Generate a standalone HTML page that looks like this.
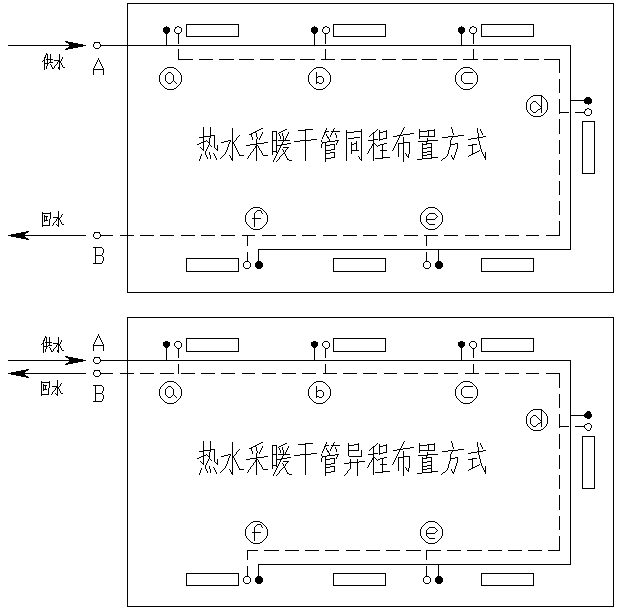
<!DOCTYPE html>
<html><head><meta charset="utf-8"><style>
html,body{margin:0;padding:0;background:#fff;width:620px;height:611px;overflow:hidden}
svg{display:block}
</style></head><body>
<svg width="620" height="611" viewBox="0 0 620 611" shape-rendering="crispEdges"><rect width="620" height="611" fill="#fff"/><path fill="#000" d="M127 3h487v1h-487zM127 4h1v1h-1zM613 4h1v1h-1zM127 5h1v1h-1zM613 5h1v1h-1zM127 6h1v1h-1zM613 6h1v1h-1zM127 7h1v1h-1zM613 7h1v1h-1zM127 8h1v1h-1zM613 8h1v1h-1zM127 9h1v1h-1zM613 9h1v1h-1zM127 10h1v1h-1zM613 10h1v1h-1zM127 11h1v1h-1zM613 11h1v1h-1zM127 12h1v1h-1zM613 12h1v1h-1zM127 13h1v1h-1zM613 13h1v1h-1zM127 14h1v1h-1zM613 14h1v1h-1zM127 15h1v1h-1zM613 15h1v1h-1zM127 16h1v1h-1zM613 16h1v1h-1zM127 17h1v1h-1zM613 17h1v1h-1zM127 18h1v1h-1zM613 18h1v1h-1zM127 19h1v1h-1zM613 19h1v1h-1zM127 20h1v1h-1zM613 20h1v1h-1zM127 21h1v1h-1zM613 21h1v1h-1zM127 22h1v1h-1zM613 22h1v1h-1zM127 23h1v1h-1zM613 23h1v1h-1zM127 24h1v1h-1zM186 24h53v1h-53zM333 24h53v1h-53zM481 24h53v1h-53zM613 24h1v1h-1zM127 25h1v1h-1zM186 25h1v1h-1zM238 25h1v1h-1zM333 25h1v1h-1zM385 25h1v1h-1zM481 25h1v1h-1zM533 25h1v1h-1zM613 25h1v1h-1zM127 26h1v1h-1zM166 26h1v1h-1zM177 26h2v1h-2zM186 26h1v1h-1zM238 26h1v1h-1zM314 26h1v1h-1zM325 26h2v1h-2zM333 26h1v1h-1zM385 26h1v1h-1zM461 26h1v1h-1zM472 26h2v1h-2zM481 26h1v1h-1zM533 26h1v1h-1zM613 26h1v1h-1zM127 27h1v1h-1zM164 27h5v1h-5zM175 27h2v1h-2zM179 27h2v1h-2zM186 27h1v1h-1zM238 27h1v1h-1zM312 27h5v1h-5zM323 27h2v1h-2zM327 27h2v1h-2zM333 27h1v1h-1zM385 27h1v1h-1zM459 27h5v1h-5zM470 27h2v1h-2zM474 27h2v1h-2zM481 27h1v1h-1zM533 27h1v1h-1zM613 27h1v1h-1zM127 28h1v1h-1zM163 28h7v1h-7zM175 28h1v1h-1zM181 28h1v1h-1zM186 28h1v1h-1zM238 28h1v1h-1zM311 28h7v1h-7zM323 28h1v1h-1zM329 28h1v1h-1zM333 28h1v1h-1zM385 28h1v1h-1zM458 28h7v1h-7zM470 28h1v1h-1zM476 28h1v1h-1zM481 28h1v1h-1zM533 28h1v1h-1zM613 28h1v1h-1zM127 29h1v1h-1zM163 29h7v1h-7zM174 29h1v1h-1zM181 29h1v1h-1zM186 29h1v1h-1zM238 29h1v1h-1zM311 29h7v1h-7zM322 29h1v1h-1zM329 29h1v1h-1zM333 29h1v1h-1zM385 29h1v1h-1zM458 29h7v1h-7zM469 29h1v1h-1zM476 29h1v1h-1zM481 29h1v1h-1zM533 29h1v1h-1zM613 29h1v1h-1zM127 30h1v1h-1zM163 30h7v1h-7zM174 30h1v1h-1zM181 30h1v1h-1zM186 30h1v1h-1zM238 30h1v1h-1zM311 30h7v1h-7zM322 30h1v1h-1zM329 30h1v1h-1zM333 30h1v1h-1zM385 30h1v1h-1zM458 30h7v1h-7zM469 30h1v1h-1zM476 30h1v1h-1zM481 30h1v1h-1zM533 30h1v1h-1zM613 30h1v1h-1zM127 31h1v1h-1zM163 31h7v1h-7zM174 31h1v1h-1zM181 31h1v1h-1zM186 31h1v1h-1zM238 31h1v1h-1zM311 31h7v1h-7zM322 31h1v1h-1zM329 31h1v1h-1zM333 31h1v1h-1zM385 31h1v1h-1zM458 31h7v1h-7zM469 31h1v1h-1zM476 31h1v1h-1zM481 31h1v1h-1zM533 31h1v1h-1zM613 31h1v1h-1zM127 32h1v1h-1zM164 32h5v1h-5zM175 32h1v1h-1zM180 32h1v1h-1zM186 32h1v1h-1zM238 32h1v1h-1zM312 32h5v1h-5zM323 32h1v1h-1zM328 32h1v1h-1zM333 32h1v1h-1zM385 32h1v1h-1zM459 32h5v1h-5zM470 32h1v1h-1zM475 32h1v1h-1zM481 32h1v1h-1zM533 32h1v1h-1zM613 32h1v1h-1zM127 33h1v1h-1zM165 33h3v1h-3zM176 33h4v1h-4zM186 33h1v1h-1zM238 33h1v1h-1zM313 33h3v1h-3zM324 33h4v1h-4zM333 33h1v1h-1zM385 33h1v1h-1zM460 33h3v1h-3zM471 33h4v1h-4zM481 33h1v1h-1zM533 33h1v1h-1zM613 33h1v1h-1zM127 34h1v1h-1zM166 34h1v1h-1zM178 34h1v1h-1zM186 34h1v1h-1zM238 34h1v1h-1zM314 34h1v1h-1zM325 34h1v1h-1zM333 34h1v1h-1zM385 34h1v1h-1zM461 34h1v1h-1zM473 34h1v1h-1zM481 34h1v1h-1zM533 34h1v1h-1zM613 34h1v1h-1zM127 35h1v1h-1zM166 35h1v1h-1zM178 35h1v1h-1zM186 35h1v1h-1zM238 35h1v1h-1zM314 35h1v1h-1zM325 35h1v1h-1zM333 35h1v1h-1zM385 35h1v1h-1zM461 35h1v1h-1zM473 35h1v1h-1zM481 35h1v1h-1zM533 35h1v1h-1zM613 35h1v1h-1zM127 36h1v1h-1zM166 36h1v1h-1zM178 36h1v1h-1zM186 36h53v1h-53zM314 36h1v1h-1zM325 36h1v1h-1zM333 36h53v1h-53zM461 36h1v1h-1zM473 36h1v1h-1zM481 36h53v1h-53zM613 36h1v1h-1zM127 37h1v1h-1zM166 37h1v1h-1zM178 37h1v1h-1zM314 37h1v1h-1zM325 37h1v1h-1zM461 37h1v1h-1zM473 37h1v1h-1zM613 37h1v1h-1zM127 38h1v1h-1zM166 38h1v1h-1zM178 38h1v1h-1zM314 38h1v1h-1zM325 38h1v1h-1zM461 38h1v1h-1zM473 38h1v1h-1zM613 38h1v1h-1zM127 39h1v1h-1zM166 39h1v1h-1zM178 39h1v1h-1zM314 39h1v1h-1zM325 39h1v1h-1zM461 39h1v1h-1zM473 39h1v1h-1zM613 39h1v1h-1zM127 40h1v1h-1zM166 40h1v1h-1zM178 40h1v1h-1zM314 40h1v1h-1zM325 40h1v1h-1zM461 40h1v1h-1zM473 40h1v1h-1zM613 40h1v1h-1zM65 41h3v1h-3zM127 41h1v1h-1zM166 41h1v1h-1zM178 41h1v1h-1zM314 41h1v1h-1zM325 41h1v1h-1zM461 41h1v1h-1zM473 41h1v1h-1zM613 41h1v1h-1zM66 42h7v1h-7zM94 42h6v1h-6zM127 42h1v1h-1zM166 42h1v1h-1zM178 42h1v1h-1zM314 42h1v1h-1zM325 42h1v1h-1zM461 42h1v1h-1zM473 42h1v1h-1zM613 42h1v1h-1zM68 43h10v1h-10zM94 43h1v1h-1zM99 43h1v1h-1zM127 43h1v1h-1zM166 43h1v1h-1zM178 43h1v1h-1zM314 43h1v1h-1zM325 43h1v1h-1zM461 43h1v1h-1zM473 43h1v1h-1zM613 43h1v1h-1zM69 44h14v1h-14zM93 44h1v1h-1zM100 44h1v1h-1zM127 44h1v1h-1zM166 44h1v1h-1zM314 44h1v1h-1zM461 44h1v1h-1zM613 44h1v1h-1zM8 45h78v1h-78zM93 45h1v1h-1zM100 45h471v1h-471zM613 45h1v1h-1zM69 46h14v1h-14zM93 46h1v1h-1zM100 46h1v1h-1zM127 46h1v1h-1zM570 46h1v1h-1zM613 46h1v1h-1zM68 47h10v1h-10zM94 47h1v1h-1zM99 47h1v1h-1zM127 47h1v1h-1zM570 47h1v1h-1zM613 47h1v1h-1zM66 48h7v1h-7zM95 48h4v1h-4zM127 48h1v1h-1zM570 48h1v1h-1zM613 48h1v1h-1zM65 49h3v1h-3zM127 49h1v1h-1zM178 49h1v1h-1zM325 49h1v1h-1zM473 49h1v1h-1zM570 49h1v1h-1zM613 49h1v1h-1zM127 50h1v1h-1zM178 50h1v1h-1zM325 50h1v1h-1zM473 50h1v1h-1zM570 50h1v1h-1zM613 50h1v1h-1zM127 51h1v1h-1zM178 51h1v1h-1zM325 51h1v1h-1zM473 51h1v1h-1zM570 51h1v1h-1zM613 51h1v1h-1zM127 52h1v1h-1zM178 52h1v1h-1zM325 52h1v1h-1zM473 52h1v1h-1zM570 52h1v1h-1zM613 52h1v1h-1zM46 53h1v1h-1zM127 53h1v1h-1zM178 53h1v1h-1zM325 53h1v1h-1zM473 53h1v1h-1zM570 53h1v1h-1zM613 53h1v1h-1zM46 54h2v1h-2zM50 54h1v1h-1zM59 54h1v1h-1zM127 54h1v1h-1zM178 54h1v1h-1zM325 54h1v1h-1zM473 54h1v1h-1zM570 54h1v1h-1zM613 54h1v1h-1zM45 55h1v1h-1zM47 55h1v1h-1zM50 55h1v1h-1zM59 55h1v1h-1zM127 55h1v1h-1zM178 55h1v1h-1zM325 55h1v1h-1zM473 55h1v1h-1zM570 55h1v1h-1zM613 55h1v1h-1zM45 56h1v1h-1zM47 56h1v1h-1zM50 56h1v1h-1zM59 56h1v1h-1zM127 56h1v1h-1zM178 56h1v1h-1zM325 56h1v1h-1zM473 56h1v1h-1zM570 56h1v1h-1zM613 56h1v1h-1zM44 57h2v1h-2zM47 57h1v1h-1zM50 57h1v1h-1zM59 57h1v1h-1zM62 57h1v1h-1zM127 57h1v1h-1zM178 57h1v1h-1zM325 57h1v1h-1zM473 57h1v1h-1zM570 57h1v1h-1zM613 57h1v1h-1zM44 58h1v1h-1zM47 58h1v1h-1zM50 58h1v1h-1zM59 58h1v1h-1zM62 58h1v1h-1zM98 58h1v1h-1zM127 58h1v1h-1zM178 58h1v1h-1zM325 58h1v1h-1zM473 58h1v1h-1zM570 58h1v1h-1zM613 58h1v1h-1zM44 59h1v1h-1zM46 59h7v1h-7zM59 59h1v1h-1zM61 59h1v1h-1zM98 59h1v1h-1zM127 59h1v1h-1zM178 59h15v1h-15zM199 59h14v1h-14zM219 59h15v1h-15zM239 59h15v1h-15zM260 59h14v1h-14zM280 59h15v1h-15zM300 59h15v1h-15zM321 59h14v1h-14zM341 59h15v1h-15zM361 59h15v1h-15zM382 59h14v1h-14zM402 59h15v1h-15zM422 59h15v1h-15zM443 59h14v1h-14zM463 59h15v1h-15zM483 59h15v1h-15zM504 59h14v1h-14zM524 59h15v1h-15zM544 59h16v1h-16zM570 59h1v1h-1zM613 59h1v1h-1zM43 60h2v1h-2zM47 60h1v1h-1zM50 60h1v1h-1zM54 60h6v1h-6zM61 60h1v1h-1zM97 60h1v1h-1zM99 60h1v1h-1zM127 60h1v1h-1zM559 60h1v1h-1zM570 60h1v1h-1zM613 60h1v1h-1zM42 61h1v1h-1zM44 61h1v1h-1zM47 61h1v1h-1zM50 61h1v1h-1zM58 61h3v1h-3zM97 61h1v1h-1zM99 61h1v1h-1zM127 61h1v1h-1zM559 61h1v1h-1zM570 61h1v1h-1zM613 61h1v1h-1zM44 62h1v1h-1zM47 62h1v1h-1zM49 62h4v1h-4zM57 62h1v1h-1zM59 62h2v1h-2zM96 62h1v1h-1zM100 62h1v1h-1zM127 62h1v1h-1zM559 62h1v1h-1zM570 62h1v1h-1zM613 62h1v1h-1zM44 63h5v1h-5zM57 63h1v1h-1zM59 63h1v1h-1zM61 63h1v1h-1zM96 63h1v1h-1zM100 63h1v1h-1zM127 63h1v1h-1zM559 63h1v1h-1zM570 63h1v1h-1zM613 63h1v1h-1zM44 64h1v1h-1zM47 64h1v1h-1zM50 64h1v1h-1zM56 64h1v1h-1zM59 64h1v1h-1zM61 64h1v1h-1zM95 64h1v1h-1zM101 64h1v1h-1zM127 64h1v1h-1zM559 64h1v1h-1zM570 64h1v1h-1zM613 64h1v1h-1zM44 65h1v1h-1zM47 65h1v1h-1zM51 65h1v1h-1zM55 65h1v1h-1zM59 65h1v1h-1zM62 65h1v1h-1zM95 65h1v1h-1zM101 65h1v1h-1zM127 65h1v1h-1zM559 65h1v1h-1zM570 65h1v1h-1zM613 65h1v1h-1zM44 66h1v1h-1zM46 66h1v1h-1zM51 66h1v1h-1zM54 66h1v1h-1zM59 66h1v1h-1zM62 66h1v1h-1zM94 66h1v1h-1zM102 66h1v1h-1zM127 66h1v1h-1zM559 66h1v1h-1zM570 66h1v1h-1zM613 66h1v1h-1zM44 67h1v1h-1zM46 67h1v1h-1zM52 67h1v1h-1zM54 67h1v1h-1zM58 67h2v1h-2zM63 67h2v1h-2zM94 67h1v1h-1zM102 67h1v1h-1zM127 67h1v1h-1zM167 67h7v1h-7zM316 67h7v1h-7zM463 67h7v1h-7zM559 67h1v1h-1zM570 67h1v1h-1zM613 67h1v1h-1zM44 68h1v1h-1zM46 68h1v1h-1zM52 68h2v1h-2zM58 68h2v1h-2zM93 68h1v1h-1zM103 68h1v1h-1zM127 68h1v1h-1zM165 68h2v1h-2zM174 68h2v1h-2zM314 68h2v1h-2zM323 68h2v1h-2zM461 68h2v1h-2zM470 68h2v1h-2zM559 68h1v1h-1zM570 68h1v1h-1zM613 68h1v1h-1zM44 69h1v1h-1zM59 69h1v1h-1zM93 69h11v1h-11zM127 69h1v1h-1zM164 69h1v1h-1zM176 69h1v1h-1zM313 69h1v1h-1zM325 69h1v1h-1zM460 69h1v1h-1zM472 69h1v1h-1zM559 69h1v1h-1zM570 69h1v1h-1zM613 69h1v1h-1zM93 70h1v1h-1zM103 70h1v1h-1zM127 70h1v1h-1zM163 70h1v1h-1zM177 70h1v1h-1zM312 70h1v1h-1zM326 70h1v1h-1zM459 70h1v1h-1zM473 70h1v1h-1zM559 70h1v1h-1zM570 70h1v1h-1zM613 70h1v1h-1zM93 71h1v1h-1zM103 71h1v1h-1zM127 71h1v1h-1zM162 71h1v1h-1zM178 71h1v1h-1zM311 71h1v1h-1zM327 71h1v1h-1zM458 71h1v1h-1zM474 71h1v1h-1zM559 71h1v1h-1zM570 71h1v1h-1zM613 71h1v1h-1zM93 72h1v1h-1zM103 72h1v1h-1zM127 72h1v1h-1zM161 72h1v1h-1zM168 72h3v1h-3zM179 72h1v1h-1zM310 72h1v1h-1zM316 72h1v1h-1zM328 72h1v1h-1zM457 72h1v1h-1zM464 72h9v1h-9zM475 72h1v1h-1zM559 72h1v1h-1zM570 72h1v1h-1zM613 72h1v1h-1zM93 73h1v1h-1zM103 73h1v1h-1zM127 73h1v1h-1zM160 73h1v1h-1zM167 73h1v1h-1zM171 73h1v1h-1zM180 73h1v1h-1zM309 73h1v1h-1zM316 73h1v1h-1zM329 73h1v1h-1zM456 73h1v1h-1zM463 73h1v1h-1zM476 73h1v1h-1zM570 73h1v1h-1zM613 73h1v1h-1zM93 74h1v1h-1zM103 74h1v1h-1zM127 74h1v1h-1zM160 74h1v1h-1zM166 74h1v1h-1zM172 74h1v1h-1zM180 74h1v1h-1zM309 74h1v1h-1zM316 74h1v1h-1zM329 74h1v1h-1zM456 74h1v1h-1zM462 74h1v1h-1zM476 74h1v1h-1zM570 74h1v1h-1zM613 74h1v1h-1zM127 75h1v1h-1zM159 75h1v1h-1zM165 75h1v1h-1zM173 75h1v1h-1zM181 75h1v1h-1zM308 75h1v1h-1zM316 75h1v1h-1zM330 75h1v1h-1zM455 75h1v1h-1zM461 75h1v1h-1zM477 75h1v1h-1zM570 75h1v1h-1zM613 75h1v1h-1zM127 76h1v1h-1zM159 76h1v1h-1zM165 76h1v1h-1zM173 76h1v1h-1zM181 76h1v1h-1zM308 76h1v1h-1zM316 76h1v1h-1zM318 76h4v1h-4zM330 76h1v1h-1zM455 76h1v1h-1zM461 76h1v1h-1zM477 76h1v1h-1zM570 76h1v1h-1zM613 76h1v1h-1zM127 77h1v1h-1zM159 77h1v1h-1zM165 77h1v1h-1zM173 77h1v1h-1zM181 77h1v1h-1zM308 77h1v1h-1zM316 77h2v1h-2zM322 77h1v1h-1zM330 77h1v1h-1zM455 77h1v1h-1zM461 77h1v1h-1zM477 77h1v1h-1zM570 77h1v1h-1zM613 77h1v1h-1zM127 78h1v1h-1zM159 78h1v1h-1zM165 78h1v1h-1zM173 78h1v1h-1zM181 78h1v1h-1zM308 78h1v1h-1zM316 78h1v1h-1zM323 78h1v1h-1zM330 78h1v1h-1zM455 78h1v1h-1zM461 78h1v1h-1zM477 78h1v1h-1zM570 78h1v1h-1zM613 78h1v1h-1zM127 79h1v1h-1zM159 79h1v1h-1zM165 79h1v1h-1zM173 79h1v1h-1zM181 79h1v1h-1zM308 79h1v1h-1zM316 79h1v1h-1zM323 79h1v1h-1zM330 79h1v1h-1zM455 79h1v1h-1zM461 79h1v1h-1zM477 79h1v1h-1zM559 79h1v1h-1zM570 79h1v1h-1zM613 79h1v1h-1zM127 80h1v1h-1zM159 80h1v1h-1zM165 80h1v1h-1zM173 80h1v1h-1zM181 80h1v1h-1zM308 80h1v1h-1zM316 80h1v1h-1zM323 80h1v1h-1zM330 80h1v1h-1zM455 80h1v1h-1zM461 80h1v1h-1zM477 80h1v1h-1zM559 80h1v1h-1zM570 80h1v1h-1zM613 80h1v1h-1zM127 81h1v1h-1zM159 81h1v1h-1zM166 81h1v1h-1zM172 81h1v1h-1zM174 81h1v1h-1zM181 81h1v1h-1zM308 81h1v1h-1zM316 81h1v1h-1zM323 81h1v1h-1zM330 81h1v1h-1zM455 81h1v1h-1zM462 81h1v1h-1zM477 81h1v1h-1zM559 81h1v1h-1zM570 81h1v1h-1zM613 81h1v1h-1zM127 82h1v1h-1zM160 82h1v1h-1zM167 82h1v1h-1zM171 82h1v1h-1zM175 82h1v1h-1zM180 82h1v1h-1zM309 82h1v1h-1zM316 82h3v1h-3zM322 82h1v1h-1zM329 82h1v1h-1zM456 82h1v1h-1zM463 82h1v1h-1zM476 82h1v1h-1zM559 82h1v1h-1zM570 82h1v1h-1zM613 82h1v1h-1zM127 83h1v1h-1zM160 83h1v1h-1zM168 83h3v1h-3zM176 83h1v1h-1zM180 83h1v1h-1zM309 83h1v1h-1zM316 83h1v1h-1zM319 83h3v1h-3zM329 83h1v1h-1zM456 83h1v1h-1zM464 83h9v1h-9zM476 83h1v1h-1zM559 83h1v1h-1zM570 83h1v1h-1zM613 83h1v1h-1zM127 84h1v1h-1zM161 84h1v1h-1zM179 84h1v1h-1zM310 84h1v1h-1zM328 84h1v1h-1zM457 84h1v1h-1zM475 84h1v1h-1zM559 84h1v1h-1zM570 84h1v1h-1zM613 84h1v1h-1zM127 85h1v1h-1zM162 85h1v1h-1zM178 85h1v1h-1zM311 85h1v1h-1zM327 85h1v1h-1zM458 85h1v1h-1zM474 85h1v1h-1zM559 85h1v1h-1zM570 85h1v1h-1zM613 85h1v1h-1zM127 86h1v1h-1zM163 86h1v1h-1zM177 86h1v1h-1zM312 86h1v1h-1zM326 86h1v1h-1zM459 86h1v1h-1zM473 86h1v1h-1zM559 86h1v1h-1zM570 86h1v1h-1zM613 86h1v1h-1zM127 87h1v1h-1zM164 87h1v1h-1zM176 87h1v1h-1zM313 87h1v1h-1zM325 87h1v1h-1zM460 87h1v1h-1zM472 87h1v1h-1zM559 87h1v1h-1zM570 87h1v1h-1zM613 87h1v1h-1zM127 88h1v1h-1zM165 88h2v1h-2zM174 88h2v1h-2zM314 88h2v1h-2zM323 88h2v1h-2zM461 88h2v1h-2zM470 88h2v1h-2zM559 88h1v1h-1zM570 88h1v1h-1zM613 88h1v1h-1zM127 89h1v1h-1zM167 89h7v1h-7zM316 89h7v1h-7zM463 89h7v1h-7zM559 89h1v1h-1zM570 89h1v1h-1zM613 89h1v1h-1zM127 90h1v1h-1zM559 90h1v1h-1zM570 90h1v1h-1zM613 90h1v1h-1zM127 91h1v1h-1zM559 91h1v1h-1zM570 91h1v1h-1zM613 91h1v1h-1zM127 92h1v1h-1zM559 92h1v1h-1zM570 92h1v1h-1zM613 92h1v1h-1zM127 93h1v1h-1zM570 93h1v1h-1zM613 93h1v1h-1zM127 94h1v1h-1zM570 94h1v1h-1zM613 94h1v1h-1zM127 95h1v1h-1zM533 95h9v1h-9zM570 95h1v1h-1zM613 95h1v1h-1zM127 96h1v1h-1zM531 96h2v1h-2zM541 96h2v1h-2zM570 96h1v1h-1zM613 96h1v1h-1zM127 97h1v1h-1zM530 97h1v1h-1zM541 97h1v1h-1zM543 97h1v1h-1zM570 97h1v1h-1zM586 97h4v1h-4zM613 97h1v1h-1zM127 98h1v1h-1zM529 98h1v1h-1zM541 98h1v1h-1zM544 98h1v1h-1zM570 98h1v1h-1zM585 98h6v1h-6zM613 98h1v1h-1zM127 99h1v1h-1zM528 99h1v1h-1zM541 99h1v1h-1zM545 99h1v1h-1zM559 99h1v1h-1zM570 99h1v1h-1zM584 99h8v1h-8zM613 99h1v1h-1zM127 100h1v1h-1zM527 100h1v1h-1zM541 100h1v1h-1zM546 100h1v1h-1zM559 100h1v1h-1zM570 100h22v1h-22zM613 100h1v1h-1zM127 101h1v1h-1zM527 101h1v1h-1zM533 101h3v1h-3zM541 101h1v1h-1zM546 101h1v1h-1zM559 101h1v1h-1zM570 101h1v1h-1zM584 101h8v1h-8zM613 101h1v1h-1zM127 102h1v1h-1zM526 102h1v1h-1zM532 102h1v1h-1zM536 102h1v1h-1zM541 102h1v1h-1zM547 102h1v1h-1zM559 102h1v1h-1zM570 102h1v1h-1zM584 102h8v1h-8zM613 102h1v1h-1zM127 103h1v1h-1zM526 103h1v1h-1zM531 103h1v1h-1zM537 103h1v1h-1zM541 103h1v1h-1zM547 103h1v1h-1zM559 103h1v1h-1zM570 103h1v1h-1zM585 103h6v1h-6zM613 103h1v1h-1zM127 104h1v1h-1zM526 104h1v1h-1zM530 104h1v1h-1zM538 104h1v1h-1zM541 104h1v1h-1zM547 104h1v1h-1zM559 104h1v1h-1zM570 104h1v1h-1zM588 104h1v1h-1zM613 104h1v1h-1zM127 105h1v1h-1zM526 105h1v1h-1zM530 105h1v1h-1zM539 105h1v1h-1zM541 105h1v1h-1zM547 105h1v1h-1zM559 105h1v1h-1zM570 105h1v1h-1zM613 105h1v1h-1zM127 106h1v1h-1zM526 106h1v1h-1zM530 106h1v1h-1zM540 106h2v1h-2zM547 106h1v1h-1zM559 106h1v1h-1zM570 106h1v1h-1zM613 106h1v1h-1zM127 107h1v1h-1zM526 107h1v1h-1zM530 107h1v1h-1zM541 107h1v1h-1zM547 107h1v1h-1zM559 107h1v1h-1zM570 107h1v1h-1zM613 107h1v1h-1zM127 108h1v1h-1zM526 108h1v1h-1zM530 108h1v1h-1zM540 108h2v1h-2zM547 108h1v1h-1zM559 108h1v1h-1zM570 108h1v1h-1zM587 108h2v1h-2zM613 108h1v1h-1zM127 109h1v1h-1zM526 109h1v1h-1zM530 109h1v1h-1zM538 109h2v1h-2zM541 109h1v1h-1zM547 109h1v1h-1zM559 109h1v1h-1zM570 109h1v1h-1zM585 109h2v1h-2zM589 109h2v1h-2zM613 109h1v1h-1zM127 110h1v1h-1zM527 110h1v1h-1zM531 110h1v1h-1zM537 110h1v1h-1zM541 110h1v1h-1zM546 110h1v1h-1zM559 110h1v1h-1zM570 110h1v1h-1zM585 110h1v1h-1zM591 110h1v1h-1zM613 110h1v1h-1zM127 111h1v1h-1zM527 111h1v1h-1zM532 111h1v1h-1zM536 111h1v1h-1zM541 111h1v1h-1zM546 111h1v1h-1zM559 111h1v1h-1zM570 111h1v1h-1zM584 111h1v1h-1zM591 111h1v1h-1zM613 111h1v1h-1zM127 112h1v1h-1zM528 112h1v1h-1zM533 112h3v1h-3zM541 112h1v1h-1zM545 112h1v1h-1zM559 112h10v1h-10zM570 112h1v1h-1zM575 112h10v1h-10zM591 112h1v1h-1zM613 112h1v1h-1zM127 113h1v1h-1zM529 113h1v1h-1zM544 113h1v1h-1zM559 113h1v1h-1zM570 113h1v1h-1zM584 113h1v1h-1zM591 113h1v1h-1zM613 113h1v1h-1zM127 114h1v1h-1zM530 114h1v1h-1zM543 114h1v1h-1zM570 114h1v1h-1zM585 114h1v1h-1zM590 114h1v1h-1zM613 114h1v1h-1zM127 115h1v1h-1zM531 115h2v1h-2zM541 115h2v1h-2zM570 115h1v1h-1zM586 115h4v1h-4zM613 115h1v1h-1zM127 116h1v1h-1zM533 116h8v1h-8zM570 116h1v1h-1zM613 116h1v1h-1zM127 117h1v1h-1zM570 117h1v1h-1zM613 117h1v1h-1zM127 118h1v1h-1zM570 118h1v1h-1zM613 118h1v1h-1zM127 119h1v1h-1zM559 119h1v1h-1zM570 119h1v1h-1zM613 119h1v1h-1zM127 120h1v1h-1zM559 120h1v1h-1zM570 120h1v1h-1zM613 120h1v1h-1zM127 121h1v1h-1zM559 121h1v1h-1zM570 121h1v1h-1zM582 121h13v1h-13zM613 121h1v1h-1zM127 122h1v1h-1zM559 122h1v1h-1zM570 122h1v1h-1zM582 122h1v1h-1zM594 122h1v1h-1zM613 122h1v1h-1zM127 123h1v1h-1zM559 123h1v1h-1zM570 123h1v1h-1zM582 123h1v1h-1zM594 123h1v1h-1zM613 123h1v1h-1zM127 124h1v1h-1zM559 124h1v1h-1zM570 124h1v1h-1zM582 124h1v1h-1zM594 124h1v1h-1zM613 124h1v1h-1zM127 125h1v1h-1zM559 125h1v1h-1zM570 125h1v1h-1zM582 125h1v1h-1zM594 125h1v1h-1zM613 125h1v1h-1zM127 126h1v1h-1zM559 126h1v1h-1zM570 126h1v1h-1zM582 126h1v1h-1zM594 126h1v1h-1zM613 126h1v1h-1zM127 127h1v1h-1zM203 127h1v1h-1zM210 127h1v1h-1zM404 127h1v1h-1zM451 127h1v1h-1zM559 127h1v1h-1zM570 127h1v1h-1zM582 127h1v1h-1zM594 127h1v1h-1zM613 127h1v1h-1zM127 128h1v1h-1zM203 128h1v1h-1zM210 128h1v1h-1zM232 128h1v1h-1zM261 128h2v1h-2zM326 128h1v1h-1zM334 128h1v1h-1zM403 128h1v1h-1zM451 128h1v1h-1zM477 128h1v1h-1zM559 128h1v1h-1zM570 128h1v1h-1zM582 128h1v1h-1zM594 128h1v1h-1zM613 128h1v1h-1zM127 129h1v1h-1zM203 129h1v1h-1zM210 129h1v1h-1zM232 129h1v1h-1zM259 129h2v1h-2zM285 129h2v1h-2zM305 129h8v1h-8zM326 129h1v1h-1zM333 129h1v1h-1zM361 129h1v1h-1zM377 129h1v1h-1zM403 129h1v1h-1zM419 129h1v1h-1zM434 129h1v1h-1zM452 129h1v1h-1zM477 129h1v1h-1zM480 129h1v1h-1zM559 129h1v1h-1zM570 129h1v1h-1zM582 129h1v1h-1zM594 129h1v1h-1zM613 129h1v1h-1zM127 130h1v1h-1zM203 130h1v1h-1zM210 130h1v1h-1zM232 130h1v1h-1zM257 130h2v1h-2zM283 130h2v1h-2zM298 130h8v1h-8zM325 130h1v1h-1zM333 130h1v1h-1zM346 130h1v1h-1zM361 130h1v1h-1zM376 130h1v1h-1zM379 130h1v1h-1zM386 130h1v1h-1zM402 130h1v1h-1zM419 130h1v1h-1zM427 130h8v1h-8zM452 130h1v1h-1zM477 130h1v1h-1zM480 130h1v1h-1zM559 130h1v1h-1zM570 130h1v1h-1zM582 130h1v1h-1zM594 130h1v1h-1zM613 130h1v1h-1zM127 131h1v1h-1zM203 131h1v1h-1zM210 131h1v1h-1zM232 131h1v1h-1zM255 131h2v1h-2zM272 131h5v1h-5zM281 131h2v1h-2zM305 131h1v1h-1zM325 131h4v1h-4zM331 131h9v1h-9zM346 131h1v1h-1zM354 131h8v1h-8zM375 131h1v1h-1zM379 131h1v1h-1zM383 131h4v1h-4zM402 131h1v1h-1zM419 131h8v1h-8zM428 131h1v1h-1zM434 131h1v1h-1zM452 131h1v1h-1zM477 131h1v1h-1zM481 131h1v1h-1zM559 131h1v1h-1zM570 131h1v1h-1zM582 131h1v1h-1zM594 131h1v1h-1zM613 131h1v1h-1zM127 132h1v1h-1zM203 132h1v1h-1zM210 132h1v1h-1zM232 132h1v1h-1zM253 132h3v1h-3zM262 132h1v1h-1zM272 132h1v1h-1zM276 132h1v1h-1zM279 132h2v1h-2zM288 132h1v1h-1zM305 132h1v1h-1zM324 132h2v1h-2zM332 132h1v1h-1zM346 132h8v1h-8zM361 132h1v1h-1zM373 132h2v1h-2zM379 132h4v1h-4zM386 132h1v1h-1zM401 132h1v1h-1zM419 132h1v1h-1zM428 132h1v1h-1zM434 132h1v1h-1zM452 132h1v1h-1zM477 132h1v1h-1zM481 132h1v1h-1zM559 132h1v1h-1zM570 132h1v1h-1zM582 132h1v1h-1zM594 132h1v1h-1zM613 132h1v1h-1zM127 133h1v1h-1zM203 133h1v1h-1zM210 133h1v1h-1zM232 133h1v1h-1zM251 133h2v1h-2zM256 133h1v1h-1zM262 133h1v1h-1zM272 133h1v1h-1zM276 133h1v1h-1zM278 133h1v1h-1zM282 133h1v1h-1zM288 133h1v1h-1zM305 133h1v1h-1zM324 133h1v1h-1zM331 133h1v1h-1zM335 133h1v1h-1zM346 133h1v1h-1zM361 133h1v1h-1zM372 133h2v1h-2zM379 133h1v1h-1zM386 133h1v1h-1zM401 133h1v1h-1zM410 133h4v1h-4zM419 133h1v1h-1zM428 133h1v1h-1zM434 133h1v1h-1zM453 133h1v1h-1zM478 133h1v1h-1zM482 133h1v1h-1zM559 133h1v1h-1zM570 133h1v1h-1zM582 133h1v1h-1zM594 133h1v1h-1zM613 133h1v1h-1zM127 134h1v1h-1zM203 134h1v1h-1zM210 134h1v1h-1zM232 134h1v1h-1zM249 134h3v1h-3zM256 134h1v1h-1zM261 134h1v1h-1zM272 134h1v1h-1zM276 134h1v1h-1zM279 134h1v1h-1zM282 134h1v1h-1zM287 134h1v1h-1zM305 134h1v1h-1zM324 134h1v1h-1zM326 134h1v1h-1zM331 134h1v1h-1zM335 134h1v1h-1zM346 134h1v1h-1zM361 134h1v1h-1zM371 134h1v1h-1zM373 134h1v1h-1zM379 134h1v1h-1zM386 134h1v1h-1zM400 134h1v1h-1zM403 134h7v1h-7zM419 134h1v1h-1zM428 134h1v1h-1zM434 134h1v1h-1zM453 134h1v1h-1zM478 134h1v1h-1zM482 134h1v1h-1zM570 134h1v1h-1zM582 134h1v1h-1zM594 134h1v1h-1zM613 134h1v1h-1zM127 135h1v1h-1zM203 135h1v1h-1zM210 135h5v1h-5zM232 135h1v1h-1zM239 135h1v1h-1zM251 135h1v1h-1zM256 135h1v1h-1zM261 135h1v1h-1zM272 135h1v1h-1zM276 135h1v1h-1zM279 135h1v1h-1zM282 135h1v1h-1zM287 135h1v1h-1zM305 135h1v1h-1zM323 135h1v1h-1zM326 135h1v1h-1zM330 135h1v1h-1zM336 135h1v1h-1zM346 135h1v1h-1zM361 135h1v1h-1zM370 135h1v1h-1zM373 135h1v1h-1zM379 135h1v1h-1zM386 135h1v1h-1zM397 135h6v1h-6zM419 135h1v1h-1zM428 135h1v1h-1zM434 135h1v1h-1zM458 135h6v1h-6zM478 135h1v1h-1zM570 135h1v1h-1zM582 135h1v1h-1zM594 135h1v1h-1zM613 135h1v1h-1zM127 136h1v1h-1zM203 136h8v1h-8zM214 136h1v1h-1zM232 136h1v1h-1zM238 136h1v1h-1zM251 136h1v1h-1zM256 136h1v1h-1zM260 136h1v1h-1zM272 136h1v1h-1zM276 136h1v1h-1zM280 136h1v1h-1zM283 136h1v1h-1zM286 136h1v1h-1zM305 136h1v1h-1zM323 136h1v1h-1zM327 136h1v1h-1zM330 136h1v1h-1zM336 136h1v1h-1zM346 136h1v1h-1zM361 136h1v1h-1zM369 136h1v1h-1zM373 136h1v1h-1zM379 136h1v1h-1zM386 136h1v1h-1zM393 136h4v1h-4zM399 136h1v1h-1zM419 136h16v1h-16zM448 136h10v1h-10zM478 136h1v1h-1zM483 136h3v1h-3zM570 136h1v1h-1zM582 136h1v1h-1zM594 136h1v1h-1zM613 136h1v1h-1zM127 137h1v1h-1zM199 137h5v1h-5zM210 137h1v1h-1zM214 137h1v1h-1zM232 137h1v1h-1zM237 137h1v1h-1zM252 137h1v1h-1zM257 137h1v1h-1zM260 137h1v1h-1zM272 137h1v1h-1zM276 137h1v1h-1zM280 137h1v1h-1zM283 137h1v1h-1zM286 137h1v1h-1zM305 137h1v1h-1zM322 137h1v1h-1zM327 137h2v1h-2zM336 137h1v1h-1zM346 137h1v1h-1zM354 137h6v1h-6zM361 137h1v1h-1zM373 137h1v1h-1zM379 137h1v1h-1zM386 137h1v1h-1zM399 137h1v1h-1zM403 137h1v1h-1zM419 137h1v1h-1zM442 137h6v1h-6zM452 137h1v1h-1zM477 137h6v1h-6zM570 137h1v1h-1zM582 137h1v1h-1zM594 137h1v1h-1zM613 137h1v1h-1zM127 138h1v1h-1zM203 138h1v1h-1zM209 138h1v1h-1zM214 138h1v1h-1zM232 138h1v1h-1zM236 138h1v1h-1zM252 138h1v1h-1zM257 138h1v1h-1zM259 138h1v1h-1zM272 138h1v1h-1zM276 138h1v1h-1zM280 138h1v1h-1zM283 138h1v1h-1zM285 138h1v1h-1zM305 138h1v1h-1zM322 138h1v1h-1zM328 138h1v1h-1zM346 138h1v1h-1zM348 138h6v1h-6zM361 138h1v1h-1zM373 138h1v1h-1zM379 138h1v1h-1zM383 138h4v1h-4zM398 138h1v1h-1zM403 138h1v1h-1zM419 138h1v1h-1zM427 138h1v1h-1zM451 138h1v1h-1zM471 138h6v1h-6zM478 138h1v1h-1zM570 138h1v1h-1zM582 138h1v1h-1zM594 138h1v1h-1zM613 138h1v1h-1zM127 139h1v1h-1zM203 139h1v1h-1zM209 139h1v1h-1zM214 139h1v1h-1zM232 139h1v1h-1zM236 139h1v1h-1zM252 139h1v1h-1zM256 139h1v1h-1zM259 139h1v1h-1zM272 139h1v1h-1zM276 139h1v1h-1zM283 139h1v1h-1zM285 139h1v1h-1zM305 139h1v1h-1zM311 139h6v1h-6zM329 139h1v1h-1zM346 139h1v1h-1zM361 139h1v1h-1zM373 139h5v1h-5zM379 139h4v1h-4zM398 139h1v1h-1zM403 139h1v1h-1zM427 139h1v1h-1zM451 139h1v1h-1zM468 139h3v1h-3zM478 139h1v1h-1zM570 139h1v1h-1zM582 139h1v1h-1zM594 139h1v1h-1zM613 139h1v1h-1zM127 140h1v1h-1zM203 140h1v1h-1zM206 140h1v1h-1zM209 140h1v1h-1zM214 140h1v1h-1zM228 140h3v1h-3zM232 140h1v1h-1zM235 140h1v1h-1zM256 140h1v1h-1zM272 140h5v1h-5zM278 140h12v1h-12zM300 140h11v1h-11zM321 140h1v1h-1zM329 140h1v1h-1zM335 140h4v1h-4zM346 140h1v1h-1zM361 140h1v1h-1zM368 140h6v1h-6zM379 140h1v1h-1zM397 140h1v1h-1zM403 140h1v1h-1zM427 140h11v1h-11zM450 140h1v1h-1zM478 140h1v1h-1zM559 140h1v1h-1zM570 140h1v1h-1zM582 140h1v1h-1zM594 140h1v1h-1zM613 140h1v1h-1zM127 141h1v1h-1zM203 141h3v1h-3zM207 141h1v1h-1zM209 141h1v1h-1zM214 141h1v1h-1zM224 141h4v1h-4zM230 141h1v1h-1zM232 141h1v1h-1zM234 141h1v1h-1zM256 141h1v1h-1zM272 141h1v1h-1zM276 141h1v1h-1zM283 141h1v1h-1zM294 141h6v1h-6zM305 141h1v1h-1zM321 141h1v1h-1zM327 141h8v1h-8zM337 141h1v1h-1zM346 141h1v1h-1zM356 141h1v1h-1zM361 141h1v1h-1zM373 141h1v1h-1zM397 141h1v1h-1zM403 141h1v1h-1zM418 141h10v1h-10zM450 141h1v1h-1zM479 141h1v1h-1zM559 141h1v1h-1zM570 141h1v1h-1zM582 141h1v1h-1zM594 141h1v1h-1zM613 141h1v1h-1zM127 142h1v1h-1zM201 142h3v1h-3zM208 142h2v1h-2zM214 142h1v1h-1zM221 142h3v1h-3zM229 142h1v1h-1zM232 142h2v1h-2zM256 142h1v1h-1zM264 142h4v1h-4zM272 142h1v1h-1zM276 142h1v1h-1zM282 142h1v1h-1zM305 142h1v1h-1zM322 142h5v1h-5zM337 142h1v1h-1zM346 142h1v1h-1zM351 142h1v1h-1zM356 142h1v1h-1zM361 142h1v1h-1zM373 142h1v1h-1zM396 142h1v1h-1zM403 142h7v1h-7zM426 142h1v1h-1zM450 142h1v1h-1zM479 142h1v1h-1zM559 142h1v1h-1zM570 142h1v1h-1zM582 142h1v1h-1zM594 142h1v1h-1zM613 142h1v1h-1zM127 143h1v1h-1zM199 143h2v1h-2zM203 143h1v1h-1zM209 143h1v1h-1zM214 143h1v1h-1zM229 143h1v1h-1zM232 143h2v1h-2zM256 143h8v1h-8zM272 143h1v1h-1zM276 143h1v1h-1zM282 143h1v1h-1zM287 143h4v1h-4zM305 143h1v1h-1zM322 143h1v1h-1zM325 143h1v1h-1zM336 143h1v1h-1zM346 143h1v1h-1zM351 143h1v1h-1zM354 143h3v1h-3zM361 143h1v1h-1zM373 143h2v1h-2zM384 143h3v1h-3zM396 143h1v1h-1zM398 143h6v1h-6zM409 143h1v1h-1zM422 143h1v1h-1zM426 143h6v1h-6zM450 143h1v1h-1zM455 143h3v1h-3zM479 143h1v1h-1zM559 143h1v1h-1zM570 143h1v1h-1zM582 143h1v1h-1zM594 143h1v1h-1zM613 143h1v1h-1zM127 144h1v1h-1zM197 144h2v1h-2zM203 144h1v1h-1zM209 144h1v1h-1zM214 144h1v1h-1zM228 144h1v1h-1zM232 144h1v1h-1zM234 144h1v1h-1zM250 144h7v1h-7zM272 144h1v1h-1zM276 144h1v1h-1zM281 144h6v1h-6zM305 144h1v1h-1zM321 144h1v1h-1zM325 144h1v1h-1zM330 144h5v1h-5zM336 144h1v1h-1zM346 144h1v1h-1zM351 144h3v1h-3zM356 144h1v1h-1zM361 144h1v1h-1zM372 144h2v1h-2zM375 144h1v1h-1zM380 144h4v1h-4zM395 144h1v1h-1zM398 144h1v1h-1zM403 144h1v1h-1zM409 144h1v1h-1zM422 144h5v1h-5zM431 144h1v1h-1zM450 144h5v1h-5zM457 144h1v1h-1zM472 144h5v1h-5zM479 144h1v1h-1zM559 144h1v1h-1zM570 144h1v1h-1zM582 144h1v1h-1zM594 144h1v1h-1zM613 144h1v1h-1zM127 145h1v1h-1zM203 145h1v1h-1zM208 145h1v1h-1zM210 145h1v1h-1zM214 145h1v1h-1zM217 145h1v1h-1zM228 145h1v1h-1zM232 145h1v1h-1zM234 145h1v1h-1zM246 145h4v1h-4zM256 145h2v1h-2zM272 145h1v1h-1zM276 145h6v1h-6zM305 145h1v1h-1zM321 145h1v1h-1zM325 145h5v1h-5zM334 145h1v1h-1zM346 145h1v1h-1zM351 145h1v1h-1zM356 145h1v1h-1zM361 145h1v1h-1zM372 145h2v1h-2zM376 145h1v1h-1zM378 145h2v1h-2zM382 145h1v1h-1zM395 145h1v1h-1zM398 145h1v1h-1zM403 145h1v1h-1zM409 145h1v1h-1zM422 145h1v1h-1zM431 145h1v1h-1zM450 145h1v1h-1zM457 145h1v1h-1zM468 145h5v1h-5zM480 145h1v1h-1zM559 145h1v1h-1zM570 145h1v1h-1zM582 145h1v1h-1zM594 145h1v1h-1zM613 145h1v1h-1zM127 146h1v1h-1zM203 146h1v1h-1zM208 146h1v1h-1zM211 146h1v1h-1zM214 146h1v1h-1zM217 146h1v1h-1zM228 146h1v1h-1zM232 146h1v1h-1zM235 146h1v1h-1zM255 146h2v1h-2zM258 146h1v1h-1zM272 146h1v1h-1zM276 146h1v1h-1zM280 146h1v1h-1zM305 146h1v1h-1zM321 146h1v1h-1zM325 146h1v1h-1zM334 146h1v1h-1zM346 146h1v1h-1zM351 146h1v1h-1zM356 146h1v1h-1zM361 146h1v1h-1zM371 146h1v1h-1zM373 146h1v1h-1zM377 146h1v1h-1zM382 146h1v1h-1zM394 146h1v1h-1zM398 146h1v1h-1zM403 146h1v1h-1zM409 146h1v1h-1zM422 146h1v1h-1zM431 146h1v1h-1zM450 146h1v1h-1zM457 146h1v1h-1zM472 146h1v1h-1zM480 146h1v1h-1zM559 146h1v1h-1zM570 146h1v1h-1zM582 146h1v1h-1zM594 146h1v1h-1zM613 146h1v1h-1zM127 147h1v1h-1zM200 147h1v1h-1zM203 147h1v1h-1zM207 147h1v1h-1zM214 147h1v1h-1zM217 147h1v1h-1zM227 147h1v1h-1zM232 147h1v1h-1zM235 147h1v1h-1zM255 147h2v1h-2zM258 147h1v1h-1zM272 147h1v1h-1zM276 147h1v1h-1zM280 147h1v1h-1zM283 147h6v1h-6zM305 147h1v1h-1zM321 147h1v1h-1zM325 147h1v1h-1zM334 147h1v1h-1zM346 147h1v1h-1zM351 147h1v1h-1zM356 147h1v1h-1zM361 147h1v1h-1zM371 147h1v1h-1zM373 147h1v1h-1zM382 147h1v1h-1zM394 147h1v1h-1zM398 147h1v1h-1zM403 147h1v1h-1zM409 147h1v1h-1zM422 147h1v1h-1zM427 147h5v1h-5zM449 147h1v1h-1zM457 147h1v1h-1zM472 147h1v1h-1zM480 147h1v1h-1zM559 147h1v1h-1zM570 147h1v1h-1zM582 147h1v1h-1zM594 147h1v1h-1zM613 147h1v1h-1zM127 148h1v1h-1zM201 148h1v1h-1zM203 148h1v1h-1zM207 148h1v1h-1zM215 148h1v1h-1zM217 148h1v1h-1zM227 148h1v1h-1zM232 148h1v1h-1zM236 148h1v1h-1zM254 148h1v1h-1zM256 148h1v1h-1zM259 148h1v1h-1zM272 148h1v1h-1zM276 148h1v1h-1zM279 148h1v1h-1zM287 148h1v1h-1zM305 148h1v1h-1zM325 148h1v1h-1zM334 148h1v1h-1zM346 148h1v1h-1zM351 148h1v1h-1zM356 148h1v1h-1zM361 148h1v1h-1zM370 148h1v1h-1zM373 148h1v1h-1zM382 148h1v1h-1zM393 148h1v1h-1zM398 148h1v1h-1zM403 148h1v1h-1zM409 148h1v1h-1zM422 148h5v1h-5zM431 148h1v1h-1zM449 148h1v1h-1zM457 148h1v1h-1zM472 148h1v1h-1zM480 148h1v1h-1zM559 148h1v1h-1zM570 148h1v1h-1zM582 148h1v1h-1zM594 148h1v1h-1zM613 148h1v1h-1zM127 149h1v1h-1zM202 149h2v1h-2zM206 149h1v1h-1zM216 149h2v1h-2zM227 149h1v1h-1zM232 149h1v1h-1zM236 149h1v1h-1zM253 149h1v1h-1zM256 149h1v1h-1zM259 149h1v1h-1zM272 149h1v1h-1zM276 149h1v1h-1zM279 149h1v1h-1zM282 149h1v1h-1zM286 149h1v1h-1zM305 149h1v1h-1zM325 149h1v1h-1zM331 149h4v1h-4zM346 149h1v1h-1zM351 149h1v1h-1zM356 149h1v1h-1zM361 149h1v1h-1zM369 149h1v1h-1zM373 149h1v1h-1zM382 149h1v1h-1zM393 149h1v1h-1zM398 149h1v1h-1zM403 149h1v1h-1zM409 149h1v1h-1zM422 149h1v1h-1zM431 149h1v1h-1zM449 149h1v1h-1zM456 149h1v1h-1zM472 149h1v1h-1zM481 149h1v1h-1zM559 149h1v1h-1zM570 149h1v1h-1zM582 149h1v1h-1zM594 149h1v1h-1zM613 149h1v1h-1zM127 150h1v1h-1zM203 150h1v1h-1zM206 150h1v1h-1zM217 150h1v1h-1zM226 150h1v1h-1zM232 150h1v1h-1zM237 150h1v1h-1zM253 150h1v1h-1zM256 150h1v1h-1zM260 150h1v1h-1zM272 150h1v1h-1zM276 150h1v1h-1zM278 150h1v1h-1zM283 150h1v1h-1zM285 150h1v1h-1zM305 150h1v1h-1zM325 150h6v1h-6zM346 150h1v1h-1zM351 150h8v1h-8zM361 150h1v1h-1zM369 150h1v1h-1zM373 150h1v1h-1zM380 150h7v1h-7zM392 150h1v1h-1zM398 150h1v1h-1zM403 150h1v1h-1zM409 150h1v1h-1zM422 150h1v1h-1zM431 150h1v1h-1zM448 150h1v1h-1zM456 150h1v1h-1zM472 150h1v1h-1zM479 150h1v1h-1zM481 150h1v1h-1zM559 150h1v1h-1zM570 150h1v1h-1zM582 150h1v1h-1zM594 150h1v1h-1zM613 150h1v1h-1zM127 151h1v1h-1zM205 151h1v1h-1zM226 151h1v1h-1zM232 151h1v1h-1zM237 151h1v1h-1zM252 151h1v1h-1zM256 151h1v1h-1zM261 151h1v1h-1zM272 151h5v1h-5zM278 151h1v1h-1zM283 151h1v1h-1zM285 151h1v1h-1zM305 151h1v1h-1zM325 151h1v1h-1zM346 151h1v1h-1zM351 151h1v1h-1zM361 151h1v1h-1zM368 151h1v1h-1zM373 151h1v1h-1zM382 151h1v1h-1zM398 151h1v1h-1zM403 151h1v1h-1zM409 151h1v1h-1zM422 151h1v1h-1zM427 151h5v1h-5zM448 151h1v1h-1zM456 151h1v1h-1zM472 151h1v1h-1zM477 151h2v1h-2zM481 151h1v1h-1zM559 151h1v1h-1zM570 151h1v1h-1zM582 151h1v1h-1zM594 151h1v1h-1zM613 151h1v1h-1zM127 152h1v1h-1zM205 152h1v1h-1zM209 152h1v1h-1zM225 152h1v1h-1zM232 152h1v1h-1zM238 152h1v1h-1zM251 152h1v1h-1zM256 152h1v1h-1zM261 152h1v1h-1zM272 152h1v1h-1zM276 152h2v1h-2zM284 152h1v1h-1zM305 152h1v1h-1zM325 152h1v1h-1zM330 152h5v1h-5zM346 152h1v1h-1zM351 152h1v1h-1zM361 152h1v1h-1zM368 152h1v1h-1zM373 152h1v1h-1zM382 152h1v1h-1zM398 152h1v1h-1zM403 152h1v1h-1zM409 152h1v1h-1zM422 152h5v1h-5zM431 152h1v1h-1zM448 152h1v1h-1zM455 152h1v1h-1zM472 152h1v1h-1zM475 152h2v1h-2zM482 152h1v1h-1zM485 152h1v1h-1zM559 152h1v1h-1zM570 152h1v1h-1zM582 152h1v1h-1zM594 152h1v1h-1zM613 152h1v1h-1zM127 153h1v1h-1zM205 153h1v1h-1zM209 153h1v1h-1zM213 153h1v1h-1zM225 153h1v1h-1zM232 153h1v1h-1zM238 153h1v1h-1zM250 153h1v1h-1zM256 153h1v1h-1zM262 153h1v1h-1zM272 153h1v1h-1zM277 153h1v1h-1zM283 153h2v1h-2zM305 153h1v1h-1zM325 153h5v1h-5zM334 153h1v1h-1zM346 153h1v1h-1zM351 153h1v1h-1zM361 153h1v1h-1zM367 153h1v1h-1zM373 153h1v1h-1zM382 153h1v1h-1zM398 153h1v1h-1zM403 153h1v1h-1zM405 153h1v1h-1zM409 153h1v1h-1zM422 153h1v1h-1zM431 153h1v1h-1zM448 153h1v1h-1zM455 153h1v1h-1zM472 153h3v1h-3zM482 153h1v1h-1zM485 153h1v1h-1zM559 153h1v1h-1zM570 153h1v1h-1zM582 153h1v1h-1zM594 153h1v1h-1zM613 153h1v1h-1zM127 154h1v1h-1zM201 154h1v1h-1zM205 154h1v1h-1zM209 154h1v1h-1zM214 154h1v1h-1zM224 154h1v1h-1zM232 154h1v1h-1zM239 154h1v1h-1zM250 154h1v1h-1zM256 154h1v1h-1zM262 154h1v1h-1zM272 154h1v1h-1zM276 154h1v1h-1zM282 154h1v1h-1zM285 154h1v1h-1zM305 154h1v1h-1zM325 154h1v1h-1zM334 154h1v1h-1zM346 154h1v1h-1zM361 154h1v1h-1zM373 154h1v1h-1zM382 154h1v1h-1zM398 154h1v1h-1zM403 154h1v1h-1zM406 154h1v1h-1zM408 154h1v1h-1zM422 154h1v1h-1zM427 154h5v1h-5zM447 154h1v1h-1zM455 154h1v1h-1zM471 154h2v1h-2zM483 154h1v1h-1zM485 154h1v1h-1zM570 154h1v1h-1zM582 154h1v1h-1zM594 154h1v1h-1zM613 154h1v1h-1zM127 155h1v1h-1zM201 155h1v1h-1zM206 155h1v1h-1zM210 155h1v1h-1zM214 155h1v1h-1zM223 155h1v1h-1zM229 155h1v1h-1zM232 155h1v1h-1zM239 155h5v1h-5zM249 155h1v1h-1zM256 155h1v1h-1zM263 155h5v1h-5zM276 155h1v1h-1zM281 155h1v1h-1zM285 155h1v1h-1zM305 155h1v1h-1zM325 155h1v1h-1zM334 155h1v1h-1zM346 155h1v1h-1zM361 155h1v1h-1zM373 155h1v1h-1zM382 155h1v1h-1zM398 155h1v1h-1zM403 155h1v1h-1zM406 155h1v1h-1zM408 155h1v1h-1zM422 155h5v1h-5zM431 155h1v1h-1zM447 155h1v1h-1zM451 155h1v1h-1zM454 155h1v1h-1zM469 155h2v1h-2zM483 155h1v1h-1zM485 155h1v1h-1zM570 155h1v1h-1zM582 155h1v1h-1zM594 155h1v1h-1zM613 155h1v1h-1zM127 156h1v1h-1zM200 156h1v1h-1zM206 156h1v1h-1zM210 156h1v1h-1zM215 156h1v1h-1zM222 156h1v1h-1zM230 156h1v1h-1zM232 156h1v1h-1zM248 156h1v1h-1zM256 156h1v1h-1zM275 156h1v1h-1zM280 156h1v1h-1zM286 156h1v1h-1zM305 156h1v1h-1zM325 156h1v1h-1zM334 156h1v1h-1zM346 156h1v1h-1zM358 156h1v1h-1zM361 156h1v1h-1zM373 156h1v1h-1zM382 156h1v1h-1zM398 156h1v1h-1zM403 156h1v1h-1zM407 156h2v1h-2zM422 156h1v1h-1zM431 156h1v1h-1zM446 156h1v1h-1zM451 156h1v1h-1zM454 156h1v1h-1zM468 156h1v1h-1zM484 156h2v1h-2zM570 156h1v1h-1zM582 156h1v1h-1zM594 156h1v1h-1zM613 156h1v1h-1zM127 157h1v1h-1zM200 157h1v1h-1zM207 157h1v1h-1zM210 157h1v1h-1zM215 157h1v1h-1zM221 157h1v1h-1zM230 157h1v1h-1zM232 157h1v1h-1zM248 157h1v1h-1zM256 157h1v1h-1zM275 157h1v1h-1zM279 157h1v1h-1zM286 157h1v1h-1zM305 157h1v1h-1zM325 157h1v1h-1zM331 157h4v1h-4zM346 157h1v1h-1zM359 157h1v1h-1zM361 157h1v1h-1zM373 157h1v1h-1zM382 157h8v1h-8zM403 157h1v1h-1zM408 157h1v1h-1zM422 157h1v1h-1zM431 157h7v1h-7zM445 157h1v1h-1zM452 157h1v1h-1zM454 157h1v1h-1zM484 157h2v1h-2zM570 157h1v1h-1zM582 157h1v1h-1zM594 157h1v1h-1zM613 157h1v1h-1zM127 158h1v1h-1zM200 158h1v1h-1zM207 158h1v1h-1zM210 158h1v1h-1zM216 158h1v1h-1zM220 158h1v1h-1zM231 158h2v1h-2zM247 158h1v1h-1zM256 158h1v1h-1zM274 158h1v1h-1zM279 158h1v1h-1zM287 158h1v1h-1zM305 158h1v1h-1zM325 158h6v1h-6zM346 158h1v1h-1zM359 158h1v1h-1zM361 158h1v1h-1zM373 158h1v1h-1zM375 158h8v1h-8zM403 158h1v1h-1zM422 158h10v1h-10zM443 158h2v1h-2zM452 158h2v1h-2zM485 158h1v1h-1zM570 158h1v1h-1zM582 158h1v1h-1zM594 158h1v1h-1zM613 158h1v1h-1zM127 159h1v1h-1zM199 159h1v1h-1zM216 159h1v1h-1zM231 159h2v1h-2zM256 159h1v1h-1zM274 159h1v1h-1zM278 159h1v1h-1zM287 159h2v1h-2zM305 159h1v1h-1zM325 159h1v1h-1zM346 159h1v1h-1zM360 159h2v1h-2zM373 159h1v1h-1zM403 159h1v1h-1zM417 159h5v1h-5zM442 159h1v1h-1zM453 159h1v1h-1zM485 159h1v1h-1zM570 159h1v1h-1zM582 159h1v1h-1zM594 159h1v1h-1zM613 159h1v1h-1zM127 160h1v1h-1zM199 160h1v1h-1zM232 160h1v1h-1zM256 160h1v1h-1zM273 160h1v1h-1zM277 160h1v1h-1zM289 160h3v1h-3zM305 160h1v1h-1zM325 160h1v1h-1zM346 160h1v1h-1zM361 160h1v1h-1zM373 160h1v1h-1zM403 160h1v1h-1zM441 160h1v1h-1zM559 160h1v1h-1zM570 160h1v1h-1zM582 160h1v1h-1zM594 160h1v1h-1zM613 160h1v1h-1zM127 161h1v1h-1zM273 161h1v1h-1zM276 161h1v1h-1zM325 161h1v1h-1zM403 161h1v1h-1zM559 161h1v1h-1zM570 161h1v1h-1zM582 161h1v1h-1zM594 161h1v1h-1zM613 161h1v1h-1zM127 162h1v1h-1zM559 162h1v1h-1zM570 162h1v1h-1zM582 162h1v1h-1zM594 162h1v1h-1zM613 162h1v1h-1zM127 163h1v1h-1zM559 163h1v1h-1zM570 163h1v1h-1zM582 163h1v1h-1zM594 163h1v1h-1zM613 163h1v1h-1zM127 164h1v1h-1zM559 164h1v1h-1zM570 164h1v1h-1zM582 164h1v1h-1zM594 164h1v1h-1zM613 164h1v1h-1zM127 165h1v1h-1zM559 165h1v1h-1zM570 165h1v1h-1zM582 165h1v1h-1zM594 165h1v1h-1zM613 165h1v1h-1zM127 166h1v1h-1zM559 166h1v1h-1zM570 166h1v1h-1zM582 166h1v1h-1zM594 166h1v1h-1zM613 166h1v1h-1zM127 167h1v1h-1zM559 167h1v1h-1zM570 167h1v1h-1zM582 167h1v1h-1zM594 167h1v1h-1zM613 167h1v1h-1zM127 168h1v1h-1zM559 168h1v1h-1zM570 168h1v1h-1zM582 168h1v1h-1zM594 168h1v1h-1zM613 168h1v1h-1zM127 169h1v1h-1zM559 169h1v1h-1zM570 169h1v1h-1zM582 169h1v1h-1zM594 169h1v1h-1zM613 169h1v1h-1zM127 170h1v1h-1zM559 170h1v1h-1zM570 170h1v1h-1zM582 170h1v1h-1zM594 170h1v1h-1zM613 170h1v1h-1zM127 171h1v1h-1zM559 171h1v1h-1zM570 171h1v1h-1zM582 171h1v1h-1zM594 171h1v1h-1zM613 171h1v1h-1zM127 172h1v1h-1zM559 172h1v1h-1zM570 172h1v1h-1zM582 172h1v1h-1zM594 172h1v1h-1zM613 172h1v1h-1zM127 173h1v1h-1zM559 173h1v1h-1zM570 173h1v1h-1zM582 173h13v1h-13zM613 173h1v1h-1zM127 174h1v1h-1zM559 174h1v1h-1zM570 174h1v1h-1zM613 174h1v1h-1zM127 175h1v1h-1zM570 175h1v1h-1zM613 175h1v1h-1zM127 176h1v1h-1zM570 176h1v1h-1zM613 176h1v1h-1zM127 177h1v1h-1zM570 177h1v1h-1zM613 177h1v1h-1zM127 178h1v1h-1zM570 178h1v1h-1zM613 178h1v1h-1zM127 179h1v1h-1zM570 179h1v1h-1zM613 179h1v1h-1zM127 180h1v1h-1zM570 180h1v1h-1zM613 180h1v1h-1zM127 181h1v1h-1zM559 181h1v1h-1zM570 181h1v1h-1zM613 181h1v1h-1zM127 182h1v1h-1zM559 182h1v1h-1zM570 182h1v1h-1zM613 182h1v1h-1zM127 183h1v1h-1zM559 183h1v1h-1zM570 183h1v1h-1zM613 183h1v1h-1zM127 184h1v1h-1zM559 184h1v1h-1zM570 184h1v1h-1zM613 184h1v1h-1zM127 185h1v1h-1zM559 185h1v1h-1zM570 185h1v1h-1zM613 185h1v1h-1zM127 186h1v1h-1zM559 186h1v1h-1zM570 186h1v1h-1zM613 186h1v1h-1zM127 187h1v1h-1zM559 187h1v1h-1zM570 187h1v1h-1zM613 187h1v1h-1zM127 188h1v1h-1zM559 188h1v1h-1zM570 188h1v1h-1zM613 188h1v1h-1zM127 189h1v1h-1zM559 189h1v1h-1zM570 189h1v1h-1zM613 189h1v1h-1zM127 190h1v1h-1zM559 190h1v1h-1zM570 190h1v1h-1zM613 190h1v1h-1zM127 191h1v1h-1zM559 191h1v1h-1zM570 191h1v1h-1zM613 191h1v1h-1zM127 192h1v1h-1zM559 192h1v1h-1zM570 192h1v1h-1zM613 192h1v1h-1zM127 193h1v1h-1zM559 193h1v1h-1zM570 193h1v1h-1zM613 193h1v1h-1zM127 194h1v1h-1zM559 194h1v1h-1zM570 194h1v1h-1zM613 194h1v1h-1zM127 195h1v1h-1zM570 195h1v1h-1zM613 195h1v1h-1zM127 196h1v1h-1zM570 196h1v1h-1zM613 196h1v1h-1zM127 197h1v1h-1zM570 197h1v1h-1zM613 197h1v1h-1zM127 198h1v1h-1zM570 198h1v1h-1zM613 198h1v1h-1zM127 199h1v1h-1zM570 199h1v1h-1zM613 199h1v1h-1zM127 200h1v1h-1zM570 200h1v1h-1zM613 200h1v1h-1zM127 201h1v1h-1zM559 201h1v1h-1zM570 201h1v1h-1zM613 201h1v1h-1zM127 202h1v1h-1zM559 202h1v1h-1zM570 202h1v1h-1zM613 202h1v1h-1zM127 203h1v1h-1zM559 203h1v1h-1zM570 203h1v1h-1zM613 203h1v1h-1zM127 204h1v1h-1zM559 204h1v1h-1zM570 204h1v1h-1zM613 204h1v1h-1zM127 205h1v1h-1zM559 205h1v1h-1zM570 205h1v1h-1zM613 205h1v1h-1zM127 206h1v1h-1zM559 206h1v1h-1zM570 206h1v1h-1zM613 206h1v1h-1zM127 207h1v1h-1zM253 207h7v1h-7zM428 207h7v1h-7zM559 207h1v1h-1zM570 207h1v1h-1zM613 207h1v1h-1zM127 208h1v1h-1zM251 208h2v1h-2zM260 208h2v1h-2zM426 208h2v1h-2zM435 208h2v1h-2zM559 208h1v1h-1zM570 208h1v1h-1zM613 208h1v1h-1zM127 209h1v1h-1zM250 209h1v1h-1zM262 209h1v1h-1zM425 209h1v1h-1zM437 209h1v1h-1zM559 209h1v1h-1zM570 209h1v1h-1zM613 209h1v1h-1zM127 210h1v1h-1zM249 210h1v1h-1zM257 210h4v1h-4zM263 210h1v1h-1zM424 210h1v1h-1zM438 210h1v1h-1zM559 210h1v1h-1zM570 210h1v1h-1zM613 210h1v1h-1zM58 211h1v1h-1zM127 211h1v1h-1zM248 211h1v1h-1zM256 211h1v1h-1zM261 211h1v1h-1zM264 211h1v1h-1zM423 211h1v1h-1zM439 211h1v1h-1zM559 211h1v1h-1zM570 211h1v1h-1zM613 211h1v1h-1zM42 212h1v1h-1zM50 212h1v1h-1zM58 212h1v1h-1zM127 212h1v1h-1zM247 212h1v1h-1zM255 212h1v1h-1zM261 212h1v1h-1zM265 212h1v1h-1zM422 212h1v1h-1zM440 212h1v1h-1zM559 212h1v1h-1zM570 212h1v1h-1zM613 212h1v1h-1zM42 213h9v1h-9zM58 213h1v1h-1zM127 213h1v1h-1zM246 213h1v1h-1zM254 213h1v1h-1zM262 213h1v1h-1zM266 213h1v1h-1zM421 213h1v1h-1zM429 213h6v1h-6zM441 213h1v1h-1zM559 213h1v1h-1zM570 213h1v1h-1zM613 213h1v1h-1zM42 214h1v1h-1zM50 214h1v1h-1zM58 214h1v1h-1zM62 214h1v1h-1zM127 214h1v1h-1zM246 214h1v1h-1zM254 214h1v1h-1zM266 214h1v1h-1zM421 214h1v1h-1zM428 214h1v1h-1zM435 214h1v1h-1zM441 214h1v1h-1zM559 214h1v1h-1zM570 214h1v1h-1zM613 214h1v1h-1zM42 215h1v1h-1zM44 215h1v1h-1zM50 215h1v1h-1zM58 215h1v1h-1zM61 215h1v1h-1zM127 215h1v1h-1zM245 215h1v1h-1zM254 215h1v1h-1zM267 215h1v1h-1zM420 215h1v1h-1zM427 215h1v1h-1zM436 215h1v1h-1zM442 215h1v1h-1zM570 215h1v1h-1zM613 215h1v1h-1zM42 216h1v1h-1zM44 216h4v1h-4zM50 216h1v1h-1zM58 216h1v1h-1zM61 216h1v1h-1zM127 216h1v1h-1zM245 216h1v1h-1zM254 216h1v1h-1zM267 216h1v1h-1zM420 216h1v1h-1zM426 216h1v1h-1zM437 216h1v1h-1zM442 216h1v1h-1zM570 216h1v1h-1zM613 216h1v1h-1zM42 217h1v1h-1zM44 217h1v1h-1zM46 217h1v1h-1zM50 217h1v1h-1zM53 217h6v1h-6zM60 217h1v1h-1zM127 217h1v1h-1zM245 217h1v1h-1zM254 217h1v1h-1zM267 217h1v1h-1zM420 217h1v1h-1zM426 217h1v1h-1zM436 217h1v1h-1zM442 217h1v1h-1zM570 217h1v1h-1zM613 217h1v1h-1zM42 218h1v1h-1zM44 218h1v1h-1zM46 218h1v1h-1zM50 218h1v1h-1zM57 218h3v1h-3zM127 218h1v1h-1zM245 218h1v1h-1zM252 218h9v1h-9zM267 218h1v1h-1zM420 218h1v1h-1zM426 218h1v1h-1zM435 218h1v1h-1zM442 218h1v1h-1zM570 218h1v1h-1zM613 218h1v1h-1zM42 219h1v1h-1zM44 219h1v1h-1zM46 219h1v1h-1zM49 219h1v1h-1zM56 219h1v1h-1zM58 219h2v1h-2zM127 219h1v1h-1zM245 219h1v1h-1zM254 219h1v1h-1zM267 219h1v1h-1zM420 219h1v1h-1zM426 219h9v1h-9zM442 219h1v1h-1zM570 219h1v1h-1zM613 219h1v1h-1zM42 220h1v1h-1zM44 220h4v1h-4zM49 220h1v1h-1zM56 220h1v1h-1zM58 220h1v1h-1zM60 220h1v1h-1zM127 220h1v1h-1zM245 220h1v1h-1zM254 220h1v1h-1zM267 220h1v1h-1zM420 220h1v1h-1zM426 220h1v1h-1zM442 220h1v1h-1zM570 220h1v1h-1zM613 220h1v1h-1zM42 221h1v1h-1zM44 221h1v1h-1zM49 221h1v1h-1zM55 221h1v1h-1zM58 221h1v1h-1zM60 221h1v1h-1zM127 221h1v1h-1zM245 221h1v1h-1zM254 221h1v1h-1zM267 221h1v1h-1zM420 221h1v1h-1zM426 221h1v1h-1zM442 221h1v1h-1zM559 221h1v1h-1zM570 221h1v1h-1zM613 221h1v1h-1zM42 222h1v1h-1zM49 222h1v1h-1zM54 222h1v1h-1zM58 222h1v1h-1zM61 222h1v1h-1zM127 222h1v1h-1zM246 222h1v1h-1zM254 222h1v1h-1zM266 222h1v1h-1zM421 222h1v1h-1zM427 222h1v1h-1zM441 222h1v1h-1zM559 222h1v1h-1zM570 222h1v1h-1zM613 222h1v1h-1zM42 223h1v1h-1zM49 223h1v1h-1zM53 223h1v1h-1zM58 223h1v1h-1zM61 223h1v1h-1zM127 223h1v1h-1zM246 223h1v1h-1zM254 223h1v1h-1zM266 223h1v1h-1zM421 223h1v1h-1zM428 223h1v1h-1zM441 223h1v1h-1zM559 223h1v1h-1zM570 223h1v1h-1zM613 223h1v1h-1zM42 224h1v1h-1zM49 224h1v1h-1zM53 224h1v1h-1zM56 224h1v1h-1zM58 224h1v1h-1zM62 224h2v1h-2zM127 224h1v1h-1zM247 224h1v1h-1zM254 224h1v1h-1zM265 224h1v1h-1zM422 224h1v1h-1zM429 224h6v1h-6zM440 224h1v1h-1zM559 224h1v1h-1zM570 224h1v1h-1zM613 224h1v1h-1zM42 225h8v1h-8zM52 225h1v1h-1zM57 225h2v1h-2zM127 225h1v1h-1zM248 225h1v1h-1zM254 225h1v1h-1zM264 225h1v1h-1zM423 225h1v1h-1zM439 225h1v1h-1zM559 225h1v1h-1zM570 225h1v1h-1zM613 225h1v1h-1zM42 226h1v1h-1zM58 226h1v1h-1zM127 226h1v1h-1zM249 226h1v1h-1zM254 226h1v1h-1zM263 226h1v1h-1zM424 226h1v1h-1zM438 226h1v1h-1zM559 226h1v1h-1zM570 226h1v1h-1zM613 226h1v1h-1zM127 227h1v1h-1zM250 227h1v1h-1zM262 227h1v1h-1zM425 227h1v1h-1zM437 227h1v1h-1zM559 227h1v1h-1zM570 227h1v1h-1zM613 227h1v1h-1zM127 228h1v1h-1zM251 228h2v1h-2zM260 228h2v1h-2zM426 228h2v1h-2zM435 228h2v1h-2zM559 228h1v1h-1zM570 228h1v1h-1zM613 228h1v1h-1zM127 229h1v1h-1zM253 229h7v1h-7zM428 229h7v1h-7zM559 229h1v1h-1zM570 229h1v1h-1zM613 229h1v1h-1zM127 230h1v1h-1zM559 230h1v1h-1zM570 230h1v1h-1zM613 230h1v1h-1zM26 231h3v1h-3zM127 231h1v1h-1zM559 231h1v1h-1zM570 231h1v1h-1zM613 231h1v1h-1zM21 232h7v1h-7zM94 232h6v1h-6zM127 232h1v1h-1zM559 232h1v1h-1zM570 232h1v1h-1zM613 232h1v1h-1zM16 233h10v1h-10zM94 233h1v1h-1zM99 233h1v1h-1zM127 233h1v1h-1zM559 233h1v1h-1zM570 233h1v1h-1zM613 233h1v1h-1zM11 234h14v1h-14zM93 234h1v1h-1zM100 234h1v1h-1zM127 234h1v1h-1zM559 234h1v1h-1zM570 234h1v1h-1zM613 234h1v1h-1zM8 235h78v1h-78zM93 235h1v1h-1zM100 235h13v1h-13zM120 235h14v1h-14zM140 235h14v1h-14zM160 235h14v1h-14zM181 235h14v1h-14zM201 235h14v1h-14zM221 235h14v1h-14zM242 235h13v1h-13zM262 235h14v1h-14zM282 235h14v1h-14zM302 235h14v1h-14zM323 235h14v1h-14zM343 235h14v1h-14zM363 235h14v1h-14zM384 235h13v1h-13zM404 235h14v1h-14zM424 235h14v1h-14zM444 235h14v1h-14zM465 235h14v1h-14zM485 235h14v1h-14zM505 235h14v1h-14zM526 235h13v1h-13zM546 235h14v1h-14zM570 235h1v1h-1zM613 235h1v1h-1zM11 236h14v1h-14zM93 236h1v1h-1zM100 236h1v1h-1zM127 236h1v1h-1zM247 236h1v1h-1zM426 236h1v1h-1zM570 236h1v1h-1zM613 236h1v1h-1zM16 237h10v1h-10zM94 237h1v1h-1zM99 237h1v1h-1zM127 237h1v1h-1zM247 237h1v1h-1zM426 237h1v1h-1zM570 237h1v1h-1zM613 237h1v1h-1zM21 238h7v1h-7zM95 238h4v1h-4zM127 238h1v1h-1zM247 238h1v1h-1zM426 238h1v1h-1zM570 238h1v1h-1zM613 238h1v1h-1zM26 239h3v1h-3zM127 239h1v1h-1zM247 239h1v1h-1zM426 239h1v1h-1zM570 239h1v1h-1zM613 239h1v1h-1zM127 240h1v1h-1zM247 240h1v1h-1zM426 240h1v1h-1zM570 240h1v1h-1zM613 240h1v1h-1zM127 241h1v1h-1zM247 241h1v1h-1zM426 241h1v1h-1zM570 241h1v1h-1zM613 241h1v1h-1zM127 242h1v1h-1zM247 242h1v1h-1zM426 242h1v1h-1zM570 242h1v1h-1zM613 242h1v1h-1zM127 243h1v1h-1zM247 243h1v1h-1zM426 243h1v1h-1zM570 243h1v1h-1zM613 243h1v1h-1zM127 244h1v1h-1zM247 244h1v1h-1zM426 244h1v1h-1zM570 244h1v1h-1zM613 244h1v1h-1zM127 245h1v1h-1zM247 245h1v1h-1zM426 245h1v1h-1zM570 245h1v1h-1zM613 245h1v1h-1zM127 246h1v1h-1zM570 246h1v1h-1zM613 246h1v1h-1zM93 247h9v1h-9zM127 247h1v1h-1zM570 247h1v1h-1zM613 247h1v1h-1zM95 248h1v1h-1zM102 248h1v1h-1zM127 248h1v1h-1zM570 248h1v1h-1zM613 248h1v1h-1zM95 249h1v1h-1zM103 249h1v1h-1zM127 249h1v1h-1zM258 249h313v1h-313zM613 249h1v1h-1zM95 250h1v1h-1zM103 250h1v1h-1zM127 250h1v1h-1zM258 250h1v1h-1zM438 250h1v1h-1zM613 250h1v1h-1zM95 251h1v1h-1zM103 251h1v1h-1zM127 251h1v1h-1zM258 251h1v1h-1zM438 251h1v1h-1zM613 251h1v1h-1zM95 252h1v1h-1zM103 252h1v1h-1zM127 252h1v1h-1zM247 252h1v1h-1zM258 252h1v1h-1zM426 252h1v1h-1zM438 252h1v1h-1zM613 252h1v1h-1zM95 253h1v1h-1zM102 253h1v1h-1zM127 253h1v1h-1zM247 253h1v1h-1zM258 253h1v1h-1zM426 253h1v1h-1zM438 253h1v1h-1zM613 253h1v1h-1zM95 254h1v1h-1zM102 254h1v1h-1zM127 254h1v1h-1zM247 254h1v1h-1zM258 254h1v1h-1zM426 254h1v1h-1zM438 254h1v1h-1zM613 254h1v1h-1zM95 255h7v1h-7zM127 255h1v1h-1zM247 255h1v1h-1zM258 255h1v1h-1zM426 255h1v1h-1zM438 255h1v1h-1zM613 255h1v1h-1zM95 256h1v1h-1zM102 256h1v1h-1zM127 256h1v1h-1zM247 256h1v1h-1zM258 256h1v1h-1zM426 256h1v1h-1zM438 256h1v1h-1zM613 256h1v1h-1zM95 257h1v1h-1zM103 257h1v1h-1zM127 257h1v1h-1zM247 257h1v1h-1zM258 257h1v1h-1zM426 257h1v1h-1zM438 257h1v1h-1zM613 257h1v1h-1zM95 258h1v1h-1zM103 258h1v1h-1zM127 258h1v1h-1zM186 258h53v1h-53zM247 258h1v1h-1zM258 258h1v1h-1zM333 258h53v1h-53zM426 258h1v1h-1zM438 258h1v1h-1zM481 258h53v1h-53zM613 258h1v1h-1zM95 259h1v1h-1zM103 259h1v1h-1zM127 259h1v1h-1zM186 259h1v1h-1zM238 259h1v1h-1zM247 259h1v1h-1zM258 259h1v1h-1zM333 259h1v1h-1zM385 259h1v1h-1zM426 259h1v1h-1zM438 259h1v1h-1zM481 259h1v1h-1zM533 259h1v1h-1zM613 259h1v1h-1zM95 260h1v1h-1zM103 260h1v1h-1zM127 260h1v1h-1zM186 260h1v1h-1zM238 260h1v1h-1zM247 260h1v1h-1zM258 260h1v1h-1zM333 260h1v1h-1zM385 260h1v1h-1zM426 260h1v1h-1zM438 260h1v1h-1zM481 260h1v1h-1zM533 260h1v1h-1zM613 260h1v1h-1zM95 261h1v1h-1zM102 261h1v1h-1zM127 261h1v1h-1zM186 261h1v1h-1zM238 261h1v1h-1zM245 261h4v1h-4zM257 261h4v1h-4zM333 261h1v1h-1zM385 261h1v1h-1zM425 261h4v1h-4zM437 261h4v1h-4zM481 261h1v1h-1zM533 261h1v1h-1zM613 261h1v1h-1zM95 262h1v1h-1zM102 262h1v1h-1zM127 262h1v1h-1zM186 262h1v1h-1zM238 262h1v1h-1zM244 262h1v1h-1zM249 262h1v1h-1zM256 262h6v1h-6zM333 262h1v1h-1zM385 262h1v1h-1zM424 262h1v1h-1zM429 262h1v1h-1zM436 262h6v1h-6zM481 262h1v1h-1zM533 262h1v1h-1zM613 262h1v1h-1zM93 263h9v1h-9zM127 263h1v1h-1zM186 263h1v1h-1zM238 263h1v1h-1zM243 263h1v1h-1zM250 263h1v1h-1zM255 263h8v1h-8zM333 263h1v1h-1zM385 263h1v1h-1zM423 263h1v1h-1zM430 263h1v1h-1zM435 263h8v1h-8zM481 263h1v1h-1zM533 263h1v1h-1zM613 263h1v1h-1zM127 264h1v1h-1zM186 264h1v1h-1zM238 264h1v1h-1zM243 264h1v1h-1zM250 264h1v1h-1zM255 264h8v1h-8zM333 264h1v1h-1zM385 264h1v1h-1zM423 264h1v1h-1zM430 264h1v1h-1zM435 264h8v1h-8zM481 264h1v1h-1zM533 264h1v1h-1zM613 264h1v1h-1zM127 265h1v1h-1zM186 265h1v1h-1zM238 265h1v1h-1zM243 265h1v1h-1zM250 265h1v1h-1zM255 265h8v1h-8zM333 265h1v1h-1zM385 265h1v1h-1zM423 265h1v1h-1zM430 265h1v1h-1zM435 265h8v1h-8zM481 265h1v1h-1zM533 265h1v1h-1zM613 265h1v1h-1zM127 266h1v1h-1zM186 266h1v1h-1zM238 266h1v1h-1zM243 266h1v1h-1zM250 266h1v1h-1zM255 266h8v1h-8zM333 266h1v1h-1zM385 266h1v1h-1zM423 266h1v1h-1zM430 266h1v1h-1zM435 266h8v1h-8zM481 266h1v1h-1zM533 266h1v1h-1zM613 266h1v1h-1zM127 267h1v1h-1zM186 267h1v1h-1zM238 267h1v1h-1zM244 267h1v1h-1zM249 267h1v1h-1zM256 267h6v1h-6zM333 267h1v1h-1zM385 267h1v1h-1zM424 267h1v1h-1zM429 267h1v1h-1zM436 267h6v1h-6zM481 267h1v1h-1zM533 267h1v1h-1zM613 267h1v1h-1zM127 268h1v1h-1zM186 268h1v1h-1zM238 268h1v1h-1zM245 268h4v1h-4zM257 268h4v1h-4zM333 268h1v1h-1zM385 268h1v1h-1zM425 268h4v1h-4zM437 268h4v1h-4zM481 268h1v1h-1zM533 268h1v1h-1zM613 268h1v1h-1zM127 269h1v1h-1zM186 269h1v1h-1zM238 269h1v1h-1zM333 269h1v1h-1zM385 269h1v1h-1zM481 269h1v1h-1zM533 269h1v1h-1zM613 269h1v1h-1zM127 270h1v1h-1zM186 270h1v1h-1zM238 270h1v1h-1zM333 270h1v1h-1zM385 270h1v1h-1zM481 270h1v1h-1zM533 270h1v1h-1zM613 270h1v1h-1zM127 271h1v1h-1zM186 271h53v1h-53zM333 271h53v1h-53zM481 271h53v1h-53zM613 271h1v1h-1zM127 272h1v1h-1zM613 272h1v1h-1zM127 273h1v1h-1zM613 273h1v1h-1zM127 274h1v1h-1zM613 274h1v1h-1zM127 275h1v1h-1zM613 275h1v1h-1zM127 276h1v1h-1zM613 276h1v1h-1zM127 277h1v1h-1zM613 277h1v1h-1zM127 278h1v1h-1zM613 278h1v1h-1zM127 279h1v1h-1zM613 279h1v1h-1zM127 280h1v1h-1zM613 280h1v1h-1zM127 281h1v1h-1zM613 281h1v1h-1zM127 282h1v1h-1zM613 282h1v1h-1zM127 283h1v1h-1zM613 283h1v1h-1zM127 284h1v1h-1zM613 284h1v1h-1zM127 285h1v1h-1zM613 285h1v1h-1zM127 286h1v1h-1zM613 286h1v1h-1zM127 287h1v1h-1zM613 287h1v1h-1zM127 288h1v1h-1zM613 288h1v1h-1zM127 289h1v1h-1zM613 289h1v1h-1zM127 290h1v1h-1zM613 290h1v1h-1zM127 291h1v1h-1zM613 291h1v1h-1zM127 292h487v1h-487zM127 317h487v1h-487zM127 318h1v1h-1zM613 318h1v1h-1zM127 319h1v1h-1zM613 319h1v1h-1zM127 320h1v1h-1zM613 320h1v1h-1zM127 321h1v1h-1zM613 321h1v1h-1zM127 322h1v1h-1zM613 322h1v1h-1zM127 323h1v1h-1zM613 323h1v1h-1zM127 324h1v1h-1zM613 324h1v1h-1zM127 325h1v1h-1zM613 325h1v1h-1zM127 326h1v1h-1zM613 326h1v1h-1zM127 327h1v1h-1zM613 327h1v1h-1zM127 328h1v1h-1zM613 328h1v1h-1zM127 329h1v1h-1zM613 329h1v1h-1zM127 330h1v1h-1zM613 330h1v1h-1zM127 331h1v1h-1zM613 331h1v1h-1zM127 332h1v1h-1zM613 332h1v1h-1zM127 333h1v1h-1zM613 333h1v1h-1zM98 334h1v1h-1zM127 334h1v1h-1zM613 334h1v1h-1zM98 335h1v1h-1zM127 335h1v1h-1zM613 335h1v1h-1zM45 336h1v1h-1zM97 336h1v1h-1zM99 336h1v1h-1zM127 336h1v1h-1zM613 336h1v1h-1zM45 337h2v1h-2zM49 337h1v1h-1zM58 337h1v1h-1zM97 337h1v1h-1zM99 337h1v1h-1zM127 337h1v1h-1zM613 337h1v1h-1zM44 338h1v1h-1zM46 338h1v1h-1zM49 338h1v1h-1zM58 338h1v1h-1zM96 338h1v1h-1zM100 338h1v1h-1zM127 338h1v1h-1zM186 338h53v1h-53zM333 338h53v1h-53zM481 338h53v1h-53zM613 338h1v1h-1zM44 339h1v1h-1zM46 339h1v1h-1zM49 339h1v1h-1zM58 339h1v1h-1zM96 339h1v1h-1zM100 339h1v1h-1zM127 339h1v1h-1zM186 339h1v1h-1zM238 339h1v1h-1zM333 339h1v1h-1zM385 339h1v1h-1zM481 339h1v1h-1zM533 339h1v1h-1zM613 339h1v1h-1zM43 340h2v1h-2zM46 340h1v1h-1zM49 340h1v1h-1zM58 340h1v1h-1zM61 340h1v1h-1zM95 340h1v1h-1zM101 340h1v1h-1zM127 340h1v1h-1zM186 340h1v1h-1zM238 340h1v1h-1zM333 340h1v1h-1zM385 340h1v1h-1zM481 340h1v1h-1zM533 340h1v1h-1zM613 340h1v1h-1zM43 341h1v1h-1zM46 341h1v1h-1zM49 341h1v1h-1zM58 341h1v1h-1zM61 341h1v1h-1zM95 341h1v1h-1zM101 341h1v1h-1zM127 341h1v1h-1zM165 341h3v1h-3zM176 341h4v1h-4zM186 341h1v1h-1zM238 341h1v1h-1zM313 341h3v1h-3zM324 341h4v1h-4zM333 341h1v1h-1zM385 341h1v1h-1zM460 341h3v1h-3zM471 341h4v1h-4zM481 341h1v1h-1zM533 341h1v1h-1zM613 341h1v1h-1zM43 342h1v1h-1zM45 342h7v1h-7zM58 342h1v1h-1zM60 342h1v1h-1zM94 342h1v1h-1zM102 342h1v1h-1zM127 342h1v1h-1zM163 342h7v1h-7zM175 342h1v1h-1zM180 342h1v1h-1zM186 342h1v1h-1zM238 342h1v1h-1zM311 342h7v1h-7zM323 342h1v1h-1zM328 342h1v1h-1zM333 342h1v1h-1zM385 342h1v1h-1zM458 342h7v1h-7zM470 342h1v1h-1zM475 342h1v1h-1zM481 342h1v1h-1zM533 342h1v1h-1zM613 342h1v1h-1zM42 343h2v1h-2zM46 343h1v1h-1zM49 343h1v1h-1zM53 343h6v1h-6zM60 343h1v1h-1zM94 343h1v1h-1zM102 343h1v1h-1zM127 343h1v1h-1zM163 343h7v1h-7zM174 343h1v1h-1zM181 343h1v1h-1zM186 343h1v1h-1zM238 343h1v1h-1zM311 343h7v1h-7zM322 343h1v1h-1zM329 343h1v1h-1zM333 343h1v1h-1zM385 343h1v1h-1zM458 343h7v1h-7zM469 343h1v1h-1zM476 343h1v1h-1zM481 343h1v1h-1zM533 343h1v1h-1zM613 343h1v1h-1zM41 344h1v1h-1zM43 344h1v1h-1zM46 344h1v1h-1zM49 344h1v1h-1zM57 344h3v1h-3zM93 344h1v1h-1zM103 344h1v1h-1zM127 344h1v1h-1zM163 344h7v1h-7zM174 344h1v1h-1zM181 344h1v1h-1zM186 344h1v1h-1zM238 344h1v1h-1zM311 344h7v1h-7zM322 344h1v1h-1zM329 344h1v1h-1zM333 344h1v1h-1zM385 344h1v1h-1zM458 344h7v1h-7zM469 344h1v1h-1zM476 344h1v1h-1zM481 344h1v1h-1zM533 344h1v1h-1zM613 344h1v1h-1zM43 345h1v1h-1zM46 345h1v1h-1zM48 345h4v1h-4zM56 345h1v1h-1zM58 345h2v1h-2zM93 345h11v1h-11zM127 345h1v1h-1zM163 345h7v1h-7zM174 345h1v1h-1zM181 345h1v1h-1zM186 345h1v1h-1zM238 345h1v1h-1zM311 345h7v1h-7zM322 345h1v1h-1zM329 345h1v1h-1zM333 345h1v1h-1zM385 345h1v1h-1zM458 345h7v1h-7zM469 345h1v1h-1zM476 345h1v1h-1zM481 345h1v1h-1zM533 345h1v1h-1zM613 345h1v1h-1zM43 346h5v1h-5zM56 346h1v1h-1zM58 346h1v1h-1zM60 346h1v1h-1zM93 346h1v1h-1zM103 346h1v1h-1zM127 346h1v1h-1zM164 346h5v1h-5zM175 346h1v1h-1zM181 346h1v1h-1zM186 346h1v1h-1zM238 346h1v1h-1zM312 346h5v1h-5zM323 346h1v1h-1zM329 346h1v1h-1zM333 346h1v1h-1zM385 346h1v1h-1zM459 346h5v1h-5zM470 346h1v1h-1zM476 346h1v1h-1zM481 346h1v1h-1zM533 346h1v1h-1zM613 346h1v1h-1zM43 347h1v1h-1zM46 347h1v1h-1zM49 347h1v1h-1zM55 347h1v1h-1zM58 347h1v1h-1zM60 347h1v1h-1zM93 347h1v1h-1zM103 347h1v1h-1zM127 347h1v1h-1zM165 347h3v1h-3zM176 347h1v1h-1zM180 347h1v1h-1zM186 347h1v1h-1zM238 347h1v1h-1zM313 347h3v1h-3zM324 347h1v1h-1zM328 347h1v1h-1zM333 347h1v1h-1zM385 347h1v1h-1zM460 347h3v1h-3zM471 347h1v1h-1zM475 347h1v1h-1zM481 347h1v1h-1zM533 347h1v1h-1zM613 347h1v1h-1zM43 348h1v1h-1zM46 348h1v1h-1zM50 348h1v1h-1zM54 348h1v1h-1zM58 348h1v1h-1zM61 348h1v1h-1zM93 348h1v1h-1zM103 348h1v1h-1zM127 348h1v1h-1zM166 348h1v1h-1zM177 348h3v1h-3zM186 348h1v1h-1zM238 348h1v1h-1zM314 348h1v1h-1zM325 348h3v1h-3zM333 348h1v1h-1zM385 348h1v1h-1zM461 348h1v1h-1zM472 348h3v1h-3zM481 348h1v1h-1zM533 348h1v1h-1zM613 348h1v1h-1zM43 349h1v1h-1zM45 349h1v1h-1zM50 349h1v1h-1zM53 349h1v1h-1zM58 349h1v1h-1zM61 349h1v1h-1zM93 349h1v1h-1zM103 349h1v1h-1zM127 349h1v1h-1zM166 349h1v1h-1zM178 349h1v1h-1zM186 349h1v1h-1zM238 349h1v1h-1zM314 349h1v1h-1zM325 349h1v1h-1zM333 349h1v1h-1zM385 349h1v1h-1zM461 349h1v1h-1zM473 349h1v1h-1zM481 349h1v1h-1zM533 349h1v1h-1zM613 349h1v1h-1zM43 350h1v1h-1zM45 350h1v1h-1zM51 350h1v1h-1zM53 350h1v1h-1zM57 350h2v1h-2zM62 350h2v1h-2zM93 350h1v1h-1zM103 350h1v1h-1zM127 350h1v1h-1zM166 350h1v1h-1zM178 350h1v1h-1zM186 350h1v1h-1zM238 350h1v1h-1zM314 350h1v1h-1zM325 350h1v1h-1zM333 350h1v1h-1zM385 350h1v1h-1zM461 350h1v1h-1zM473 350h1v1h-1zM481 350h1v1h-1zM533 350h1v1h-1zM613 350h1v1h-1zM43 351h1v1h-1zM45 351h1v1h-1zM51 351h2v1h-2zM57 351h2v1h-2zM127 351h1v1h-1zM166 351h1v1h-1zM178 351h1v1h-1zM186 351h53v1h-53zM314 351h1v1h-1zM325 351h1v1h-1zM333 351h53v1h-53zM461 351h1v1h-1zM473 351h1v1h-1zM481 351h53v1h-53zM613 351h1v1h-1zM43 352h1v1h-1zM58 352h1v1h-1zM127 352h1v1h-1zM166 352h1v1h-1zM178 352h1v1h-1zM314 352h1v1h-1zM325 352h1v1h-1zM461 352h1v1h-1zM473 352h1v1h-1zM613 352h1v1h-1zM127 353h1v1h-1zM166 353h1v1h-1zM178 353h1v1h-1zM314 353h1v1h-1zM325 353h1v1h-1zM461 353h1v1h-1zM473 353h1v1h-1zM613 353h1v1h-1zM127 354h1v1h-1zM166 354h1v1h-1zM178 354h1v1h-1zM314 354h1v1h-1zM325 354h1v1h-1zM461 354h1v1h-1zM473 354h1v1h-1zM613 354h1v1h-1zM127 355h1v1h-1zM166 355h1v1h-1zM178 355h1v1h-1zM314 355h1v1h-1zM325 355h1v1h-1zM461 355h1v1h-1zM473 355h1v1h-1zM613 355h1v1h-1zM65 356h3v1h-3zM127 356h1v1h-1zM166 356h1v1h-1zM178 356h1v1h-1zM314 356h1v1h-1zM325 356h1v1h-1zM461 356h1v1h-1zM473 356h1v1h-1zM613 356h1v1h-1zM66 357h7v1h-7zM94 357h6v1h-6zM127 357h1v1h-1zM166 357h1v1h-1zM178 357h1v1h-1zM314 357h1v1h-1zM325 357h1v1h-1zM461 357h1v1h-1zM473 357h1v1h-1zM613 357h1v1h-1zM68 358h10v1h-10zM94 358h1v1h-1zM99 358h1v1h-1zM127 358h1v1h-1zM166 358h1v1h-1zM314 358h1v1h-1zM461 358h1v1h-1zM613 358h1v1h-1zM69 359h14v1h-14zM93 359h1v1h-1zM100 359h1v1h-1zM127 359h1v1h-1zM166 359h1v1h-1zM314 359h1v1h-1zM461 359h1v1h-1zM613 359h1v1h-1zM8 360h78v1h-78zM93 360h1v1h-1zM100 360h471v1h-471zM613 360h1v1h-1zM69 361h14v1h-14zM93 361h1v1h-1zM100 361h1v1h-1zM127 361h1v1h-1zM570 361h1v1h-1zM613 361h1v1h-1zM68 362h10v1h-10zM94 362h1v1h-1zM99 362h1v1h-1zM127 362h1v1h-1zM570 362h1v1h-1zM613 362h1v1h-1zM66 363h7v1h-7zM95 363h4v1h-4zM127 363h1v1h-1zM570 363h1v1h-1zM613 363h1v1h-1zM65 364h3v1h-3zM127 364h1v1h-1zM178 364h1v1h-1zM325 364h1v1h-1zM473 364h1v1h-1zM570 364h1v1h-1zM613 364h1v1h-1zM127 365h1v1h-1zM178 365h1v1h-1zM325 365h1v1h-1zM473 365h1v1h-1zM570 365h1v1h-1zM613 365h1v1h-1zM127 366h1v1h-1zM178 366h1v1h-1zM325 366h1v1h-1zM473 366h1v1h-1zM570 366h1v1h-1zM613 366h1v1h-1zM127 367h1v1h-1zM178 367h1v1h-1zM325 367h1v1h-1zM473 367h1v1h-1zM570 367h1v1h-1zM613 367h1v1h-1zM127 368h1v1h-1zM178 368h1v1h-1zM325 368h1v1h-1zM473 368h1v1h-1zM570 368h1v1h-1zM613 368h1v1h-1zM26 369h3v1h-3zM127 369h1v1h-1zM178 369h1v1h-1zM325 369h1v1h-1zM473 369h1v1h-1zM570 369h1v1h-1zM613 369h1v1h-1zM21 370h7v1h-7zM94 370h6v1h-6zM127 370h1v1h-1zM178 370h1v1h-1zM325 370h1v1h-1zM473 370h1v1h-1zM570 370h1v1h-1zM613 370h1v1h-1zM16 371h10v1h-10zM94 371h1v1h-1zM99 371h1v1h-1zM127 371h1v1h-1zM178 371h1v1h-1zM325 371h1v1h-1zM473 371h1v1h-1zM570 371h1v1h-1zM613 371h1v1h-1zM11 372h14v1h-14zM93 372h1v1h-1zM100 372h1v1h-1zM127 372h1v1h-1zM178 372h1v1h-1zM325 372h1v1h-1zM473 372h1v1h-1zM570 372h1v1h-1zM613 372h1v1h-1zM8 373h78v1h-78zM93 373h1v1h-1zM100 373h13v1h-13zM120 373h14v1h-14zM140 373h14v1h-14zM160 373h14v1h-14zM178 373h1v1h-1zM181 373h14v1h-14zM201 373h14v1h-14zM221 373h14v1h-14zM242 373h13v1h-13zM262 373h14v1h-14zM282 373h14v1h-14zM302 373h14v1h-14zM323 373h14v1h-14zM343 373h14v1h-14zM363 373h14v1h-14zM384 373h13v1h-13zM404 373h14v1h-14zM424 373h14v1h-14zM444 373h14v1h-14zM465 373h14v1h-14zM485 373h14v1h-14zM505 373h14v1h-14zM526 373h13v1h-13zM546 373h14v1h-14zM570 373h1v1h-1zM613 373h1v1h-1zM11 374h14v1h-14zM93 374h1v1h-1zM100 374h1v1h-1zM127 374h1v1h-1zM559 374h1v1h-1zM570 374h1v1h-1zM613 374h1v1h-1zM16 375h10v1h-10zM94 375h1v1h-1zM99 375h1v1h-1zM127 375h1v1h-1zM559 375h1v1h-1zM570 375h1v1h-1zM613 375h1v1h-1zM21 376h7v1h-7zM95 376h4v1h-4zM127 376h1v1h-1zM559 376h1v1h-1zM570 376h1v1h-1zM613 376h1v1h-1zM26 377h3v1h-3zM127 377h1v1h-1zM559 377h1v1h-1zM570 377h1v1h-1zM613 377h1v1h-1zM127 378h1v1h-1zM559 378h1v1h-1zM570 378h1v1h-1zM613 378h1v1h-1zM127 379h1v1h-1zM559 379h1v1h-1zM570 379h1v1h-1zM613 379h1v1h-1zM57 380h1v1h-1zM127 380h1v1h-1zM559 380h1v1h-1zM570 380h1v1h-1zM613 380h1v1h-1zM41 381h1v1h-1zM49 381h1v1h-1zM57 381h1v1h-1zM127 381h1v1h-1zM167 381h7v1h-7zM316 381h7v1h-7zM463 381h7v1h-7zM559 381h1v1h-1zM570 381h1v1h-1zM613 381h1v1h-1zM41 382h9v1h-9zM57 382h1v1h-1zM127 382h1v1h-1zM165 382h2v1h-2zM174 382h2v1h-2zM314 382h2v1h-2zM323 382h2v1h-2zM461 382h2v1h-2zM470 382h2v1h-2zM559 382h1v1h-1zM570 382h1v1h-1zM613 382h1v1h-1zM41 383h1v1h-1zM49 383h1v1h-1zM57 383h1v1h-1zM61 383h1v1h-1zM127 383h1v1h-1zM164 383h1v1h-1zM176 383h1v1h-1zM313 383h1v1h-1zM325 383h1v1h-1zM460 383h1v1h-1zM472 383h1v1h-1zM559 383h1v1h-1zM570 383h1v1h-1zM613 383h1v1h-1zM41 384h1v1h-1zM43 384h1v1h-1zM49 384h1v1h-1zM57 384h1v1h-1zM60 384h1v1h-1zM127 384h1v1h-1zM163 384h1v1h-1zM177 384h1v1h-1zM312 384h1v1h-1zM326 384h1v1h-1zM459 384h1v1h-1zM473 384h1v1h-1zM559 384h1v1h-1zM570 384h1v1h-1zM613 384h1v1h-1zM41 385h1v1h-1zM43 385h4v1h-4zM49 385h1v1h-1zM57 385h1v1h-1zM60 385h1v1h-1zM93 385h9v1h-9zM127 385h1v1h-1zM162 385h1v1h-1zM178 385h1v1h-1zM311 385h1v1h-1zM327 385h1v1h-1zM458 385h1v1h-1zM474 385h1v1h-1zM559 385h1v1h-1zM570 385h1v1h-1zM613 385h1v1h-1zM41 386h1v1h-1zM43 386h1v1h-1zM45 386h1v1h-1zM49 386h1v1h-1zM52 386h6v1h-6zM59 386h1v1h-1zM95 386h1v1h-1zM102 386h1v1h-1zM127 386h1v1h-1zM161 386h1v1h-1zM168 386h3v1h-3zM179 386h1v1h-1zM310 386h1v1h-1zM316 386h1v1h-1zM328 386h1v1h-1zM457 386h1v1h-1zM464 386h9v1h-9zM475 386h1v1h-1zM559 386h1v1h-1zM570 386h1v1h-1zM613 386h1v1h-1zM41 387h1v1h-1zM43 387h1v1h-1zM45 387h1v1h-1zM49 387h1v1h-1zM56 387h3v1h-3zM95 387h1v1h-1zM103 387h1v1h-1zM127 387h1v1h-1zM160 387h1v1h-1zM167 387h1v1h-1zM171 387h1v1h-1zM180 387h1v1h-1zM309 387h1v1h-1zM316 387h1v1h-1zM329 387h1v1h-1zM456 387h1v1h-1zM463 387h1v1h-1zM476 387h1v1h-1zM559 387h1v1h-1zM570 387h1v1h-1zM613 387h1v1h-1zM41 388h1v1h-1zM43 388h1v1h-1zM45 388h1v1h-1zM48 388h1v1h-1zM55 388h1v1h-1zM57 388h2v1h-2zM95 388h1v1h-1zM103 388h1v1h-1zM127 388h1v1h-1zM160 388h1v1h-1zM166 388h1v1h-1zM172 388h1v1h-1zM180 388h1v1h-1zM309 388h1v1h-1zM316 388h1v1h-1zM329 388h1v1h-1zM456 388h1v1h-1zM462 388h1v1h-1zM476 388h1v1h-1zM570 388h1v1h-1zM613 388h1v1h-1zM41 389h1v1h-1zM43 389h4v1h-4zM48 389h1v1h-1zM55 389h1v1h-1zM57 389h1v1h-1zM59 389h1v1h-1zM95 389h1v1h-1zM103 389h1v1h-1zM127 389h1v1h-1zM159 389h1v1h-1zM165 389h1v1h-1zM173 389h1v1h-1zM181 389h1v1h-1zM308 389h1v1h-1zM316 389h1v1h-1zM330 389h1v1h-1zM455 389h1v1h-1zM461 389h1v1h-1zM477 389h1v1h-1zM570 389h1v1h-1zM613 389h1v1h-1zM41 390h1v1h-1zM43 390h1v1h-1zM48 390h1v1h-1zM54 390h1v1h-1zM57 390h1v1h-1zM59 390h1v1h-1zM95 390h1v1h-1zM103 390h1v1h-1zM127 390h1v1h-1zM159 390h1v1h-1zM165 390h1v1h-1zM173 390h1v1h-1zM181 390h1v1h-1zM308 390h1v1h-1zM316 390h1v1h-1zM318 390h4v1h-4zM330 390h1v1h-1zM455 390h1v1h-1zM461 390h1v1h-1zM477 390h1v1h-1zM570 390h1v1h-1zM613 390h1v1h-1zM41 391h1v1h-1zM48 391h1v1h-1zM53 391h1v1h-1zM57 391h1v1h-1zM60 391h1v1h-1zM95 391h1v1h-1zM102 391h1v1h-1zM127 391h1v1h-1zM159 391h1v1h-1zM165 391h1v1h-1zM173 391h1v1h-1zM181 391h1v1h-1zM308 391h1v1h-1zM316 391h2v1h-2zM322 391h1v1h-1zM330 391h1v1h-1zM455 391h1v1h-1zM461 391h1v1h-1zM477 391h1v1h-1zM570 391h1v1h-1zM613 391h1v1h-1zM41 392h1v1h-1zM48 392h1v1h-1zM52 392h1v1h-1zM57 392h1v1h-1zM60 392h1v1h-1zM95 392h1v1h-1zM102 392h1v1h-1zM127 392h1v1h-1zM159 392h1v1h-1zM165 392h1v1h-1zM173 392h1v1h-1zM181 392h1v1h-1zM308 392h1v1h-1zM316 392h1v1h-1zM323 392h1v1h-1zM330 392h1v1h-1zM455 392h1v1h-1zM461 392h1v1h-1zM477 392h1v1h-1zM570 392h1v1h-1zM613 392h1v1h-1zM41 393h1v1h-1zM48 393h1v1h-1zM52 393h1v1h-1zM55 393h1v1h-1zM57 393h1v1h-1zM61 393h2v1h-2zM95 393h7v1h-7zM127 393h1v1h-1zM159 393h1v1h-1zM165 393h1v1h-1zM173 393h1v1h-1zM181 393h1v1h-1zM308 393h1v1h-1zM316 393h1v1h-1zM323 393h1v1h-1zM330 393h1v1h-1zM455 393h1v1h-1zM461 393h1v1h-1zM477 393h1v1h-1zM570 393h1v1h-1zM613 393h1v1h-1zM41 394h8v1h-8zM51 394h1v1h-1zM56 394h2v1h-2zM95 394h1v1h-1zM102 394h1v1h-1zM127 394h1v1h-1zM159 394h1v1h-1zM165 394h1v1h-1zM173 394h1v1h-1zM181 394h1v1h-1zM308 394h1v1h-1zM316 394h1v1h-1zM323 394h1v1h-1zM330 394h1v1h-1zM455 394h1v1h-1zM461 394h1v1h-1zM477 394h1v1h-1zM559 394h1v1h-1zM570 394h1v1h-1zM613 394h1v1h-1zM41 395h1v1h-1zM57 395h1v1h-1zM95 395h1v1h-1zM103 395h1v1h-1zM127 395h1v1h-1zM159 395h1v1h-1zM166 395h1v1h-1zM172 395h1v1h-1zM174 395h1v1h-1zM181 395h1v1h-1zM308 395h1v1h-1zM316 395h1v1h-1zM323 395h1v1h-1zM330 395h1v1h-1zM455 395h1v1h-1zM462 395h1v1h-1zM477 395h1v1h-1zM559 395h1v1h-1zM570 395h1v1h-1zM613 395h1v1h-1zM95 396h1v1h-1zM103 396h1v1h-1zM127 396h1v1h-1zM160 396h1v1h-1zM167 396h1v1h-1zM171 396h1v1h-1zM175 396h1v1h-1zM180 396h1v1h-1zM309 396h1v1h-1zM316 396h3v1h-3zM322 396h1v1h-1zM329 396h1v1h-1zM456 396h1v1h-1zM463 396h1v1h-1zM476 396h1v1h-1zM559 396h1v1h-1zM570 396h1v1h-1zM613 396h1v1h-1zM95 397h1v1h-1zM103 397h1v1h-1zM127 397h1v1h-1zM160 397h1v1h-1zM168 397h3v1h-3zM176 397h1v1h-1zM180 397h1v1h-1zM309 397h1v1h-1zM316 397h1v1h-1zM319 397h3v1h-3zM329 397h1v1h-1zM456 397h1v1h-1zM464 397h9v1h-9zM476 397h1v1h-1zM559 397h1v1h-1zM570 397h1v1h-1zM613 397h1v1h-1zM95 398h1v1h-1zM103 398h1v1h-1zM127 398h1v1h-1zM161 398h1v1h-1zM179 398h1v1h-1zM310 398h1v1h-1zM328 398h1v1h-1zM457 398h1v1h-1zM475 398h1v1h-1zM559 398h1v1h-1zM570 398h1v1h-1zM613 398h1v1h-1zM95 399h1v1h-1zM102 399h1v1h-1zM127 399h1v1h-1zM162 399h1v1h-1zM178 399h1v1h-1zM311 399h1v1h-1zM327 399h1v1h-1zM458 399h1v1h-1zM474 399h1v1h-1zM559 399h1v1h-1zM570 399h1v1h-1zM613 399h1v1h-1zM95 400h1v1h-1zM102 400h1v1h-1zM127 400h1v1h-1zM163 400h1v1h-1zM177 400h1v1h-1zM312 400h1v1h-1zM326 400h1v1h-1zM459 400h1v1h-1zM473 400h1v1h-1zM559 400h1v1h-1zM570 400h1v1h-1zM613 400h1v1h-1zM93 401h9v1h-9zM127 401h1v1h-1zM164 401h1v1h-1zM176 401h1v1h-1zM313 401h1v1h-1zM325 401h1v1h-1zM460 401h1v1h-1zM472 401h1v1h-1zM559 401h1v1h-1zM570 401h1v1h-1zM613 401h1v1h-1zM127 402h1v1h-1zM165 402h2v1h-2zM174 402h2v1h-2zM314 402h2v1h-2zM323 402h2v1h-2zM461 402h2v1h-2zM470 402h2v1h-2zM559 402h1v1h-1zM570 402h1v1h-1zM613 402h1v1h-1zM127 403h1v1h-1zM167 403h7v1h-7zM316 403h7v1h-7zM463 403h7v1h-7zM559 403h1v1h-1zM570 403h1v1h-1zM613 403h1v1h-1zM127 404h1v1h-1zM559 404h1v1h-1zM570 404h1v1h-1zM613 404h1v1h-1zM127 405h1v1h-1zM559 405h1v1h-1zM570 405h1v1h-1zM613 405h1v1h-1zM127 406h1v1h-1zM559 406h1v1h-1zM570 406h1v1h-1zM613 406h1v1h-1zM127 407h1v1h-1zM559 407h1v1h-1zM570 407h1v1h-1zM613 407h1v1h-1zM127 408h1v1h-1zM570 408h1v1h-1zM613 408h1v1h-1zM127 409h1v1h-1zM533 409h9v1h-9zM570 409h1v1h-1zM613 409h1v1h-1zM127 410h1v1h-1zM531 410h2v1h-2zM541 410h2v1h-2zM570 410h1v1h-1zM613 410h1v1h-1zM127 411h1v1h-1zM530 411h1v1h-1zM541 411h1v1h-1zM543 411h1v1h-1zM570 411h1v1h-1zM587 411h3v1h-3zM613 411h1v1h-1zM127 412h1v1h-1zM529 412h1v1h-1zM541 412h1v1h-1zM544 412h1v1h-1zM570 412h1v1h-1zM586 412h5v1h-5zM613 412h1v1h-1zM127 413h1v1h-1zM528 413h1v1h-1zM541 413h1v1h-1zM545 413h1v1h-1zM570 413h1v1h-1zM585 413h6v1h-6zM613 413h1v1h-1zM127 414h1v1h-1zM527 414h1v1h-1zM541 414h1v1h-1zM546 414h1v1h-1zM559 414h1v1h-1zM570 414h1v1h-1zM584 414h8v1h-8zM613 414h1v1h-1zM127 415h1v1h-1zM527 415h1v1h-1zM533 415h3v1h-3zM541 415h1v1h-1zM546 415h1v1h-1zM559 415h1v1h-1zM570 415h22v1h-22zM613 415h1v1h-1zM127 416h1v1h-1zM526 416h1v1h-1zM532 416h1v1h-1zM536 416h1v1h-1zM541 416h1v1h-1zM547 416h1v1h-1zM559 416h1v1h-1zM570 416h1v1h-1zM584 416h8v1h-8zM613 416h1v1h-1zM127 417h1v1h-1zM526 417h1v1h-1zM531 417h1v1h-1zM537 417h1v1h-1zM541 417h1v1h-1zM547 417h1v1h-1zM559 417h1v1h-1zM570 417h1v1h-1zM585 417h6v1h-6zM613 417h1v1h-1zM127 418h1v1h-1zM526 418h1v1h-1zM530 418h1v1h-1zM538 418h1v1h-1zM541 418h1v1h-1zM547 418h1v1h-1zM559 418h1v1h-1zM570 418h1v1h-1zM587 418h3v1h-3zM613 418h1v1h-1zM127 419h1v1h-1zM526 419h1v1h-1zM530 419h1v1h-1zM539 419h1v1h-1zM541 419h1v1h-1zM547 419h1v1h-1zM559 419h1v1h-1zM570 419h1v1h-1zM613 419h1v1h-1zM127 420h1v1h-1zM526 420h1v1h-1zM530 420h1v1h-1zM540 420h2v1h-2zM547 420h1v1h-1zM559 420h1v1h-1zM570 420h1v1h-1zM613 420h1v1h-1zM127 421h1v1h-1zM526 421h1v1h-1zM530 421h1v1h-1zM541 421h1v1h-1zM547 421h1v1h-1zM559 421h1v1h-1zM570 421h1v1h-1zM613 421h1v1h-1zM127 422h1v1h-1zM526 422h1v1h-1zM530 422h1v1h-1zM540 422h2v1h-2zM547 422h1v1h-1zM559 422h1v1h-1zM570 422h1v1h-1zM613 422h1v1h-1zM127 423h1v1h-1zM526 423h1v1h-1zM530 423h1v1h-1zM538 423h2v1h-2zM541 423h1v1h-1zM547 423h1v1h-1zM559 423h1v1h-1zM570 423h1v1h-1zM587 423h3v1h-3zM613 423h1v1h-1zM127 424h1v1h-1zM527 424h1v1h-1zM531 424h1v1h-1zM537 424h1v1h-1zM541 424h1v1h-1zM546 424h1v1h-1zM559 424h1v1h-1zM570 424h1v1h-1zM585 424h2v1h-2zM590 424h1v1h-1zM613 424h1v1h-1zM127 425h1v1h-1zM527 425h1v1h-1zM532 425h1v1h-1zM536 425h1v1h-1zM541 425h1v1h-1zM546 425h1v1h-1zM559 425h1v1h-1zM570 425h1v1h-1zM584 425h1v1h-1zM591 425h1v1h-1zM613 425h1v1h-1zM127 426h1v1h-1zM528 426h1v1h-1zM533 426h3v1h-3zM541 426h1v1h-1zM545 426h1v1h-1zM559 426h10v1h-10zM570 426h1v1h-1zM575 426h10v1h-10zM591 426h1v1h-1zM613 426h1v1h-1zM127 427h1v1h-1zM529 427h1v1h-1zM544 427h1v1h-1zM559 427h1v1h-1zM570 427h1v1h-1zM584 427h1v1h-1zM591 427h1v1h-1zM613 427h1v1h-1zM127 428h1v1h-1zM530 428h1v1h-1zM543 428h1v1h-1zM570 428h1v1h-1zM585 428h1v1h-1zM590 428h1v1h-1zM613 428h1v1h-1zM127 429h1v1h-1zM531 429h2v1h-2zM541 429h2v1h-2zM570 429h1v1h-1zM586 429h1v1h-1zM590 429h1v1h-1zM613 429h1v1h-1zM127 430h1v1h-1zM533 430h8v1h-8zM570 430h1v1h-1zM587 430h3v1h-3zM613 430h1v1h-1zM127 431h1v1h-1zM570 431h1v1h-1zM613 431h1v1h-1zM127 432h1v1h-1zM570 432h1v1h-1zM613 432h1v1h-1zM127 433h1v1h-1zM570 433h1v1h-1zM613 433h1v1h-1zM127 434h1v1h-1zM559 434h1v1h-1zM570 434h1v1h-1zM613 434h1v1h-1zM127 435h1v1h-1zM559 435h1v1h-1zM570 435h1v1h-1zM613 435h1v1h-1zM127 436h1v1h-1zM559 436h1v1h-1zM570 436h1v1h-1zM582 436h13v1h-13zM613 436h1v1h-1zM127 437h1v1h-1zM559 437h1v1h-1zM570 437h1v1h-1zM582 437h1v1h-1zM594 437h1v1h-1zM613 437h1v1h-1zM127 438h1v1h-1zM559 438h1v1h-1zM570 438h1v1h-1zM582 438h1v1h-1zM594 438h1v1h-1zM613 438h1v1h-1zM127 439h1v1h-1zM559 439h1v1h-1zM570 439h1v1h-1zM582 439h1v1h-1zM594 439h1v1h-1zM613 439h1v1h-1zM127 440h1v1h-1zM559 440h1v1h-1zM570 440h1v1h-1zM582 440h1v1h-1zM594 440h1v1h-1zM613 440h1v1h-1zM127 441h1v1h-1zM203 441h1v1h-1zM210 441h1v1h-1zM404 441h1v1h-1zM451 441h1v1h-1zM559 441h1v1h-1zM570 441h1v1h-1zM582 441h1v1h-1zM594 441h1v1h-1zM613 441h1v1h-1zM127 442h1v1h-1zM203 442h1v1h-1zM210 442h1v1h-1zM232 442h1v1h-1zM261 442h2v1h-2zM326 442h1v1h-1zM334 442h1v1h-1zM403 442h1v1h-1zM451 442h1v1h-1zM477 442h1v1h-1zM559 442h1v1h-1zM570 442h1v1h-1zM582 442h1v1h-1zM594 442h1v1h-1zM613 442h1v1h-1zM127 443h1v1h-1zM203 443h1v1h-1zM210 443h1v1h-1zM232 443h1v1h-1zM259 443h2v1h-2zM285 443h2v1h-2zM305 443h8v1h-8zM326 443h1v1h-1zM333 443h1v1h-1zM348 443h1v1h-1zM358 443h1v1h-1zM377 443h1v1h-1zM403 443h1v1h-1zM419 443h1v1h-1zM434 443h1v1h-1zM452 443h1v1h-1zM477 443h1v1h-1zM480 443h1v1h-1zM559 443h1v1h-1zM570 443h1v1h-1zM582 443h1v1h-1zM594 443h1v1h-1zM613 443h1v1h-1zM127 444h1v1h-1zM203 444h1v1h-1zM210 444h1v1h-1zM232 444h1v1h-1zM257 444h2v1h-2zM283 444h2v1h-2zM298 444h8v1h-8zM325 444h1v1h-1zM333 444h1v1h-1zM348 444h1v1h-1zM354 444h5v1h-5zM376 444h1v1h-1zM379 444h1v1h-1zM386 444h1v1h-1zM402 444h1v1h-1zM419 444h1v1h-1zM427 444h8v1h-8zM452 444h1v1h-1zM477 444h1v1h-1zM480 444h1v1h-1zM559 444h1v1h-1zM570 444h1v1h-1zM582 444h1v1h-1zM594 444h1v1h-1zM613 444h1v1h-1zM127 445h1v1h-1zM203 445h1v1h-1zM210 445h1v1h-1zM232 445h1v1h-1zM255 445h2v1h-2zM272 445h5v1h-5zM281 445h2v1h-2zM305 445h1v1h-1zM325 445h4v1h-4zM331 445h9v1h-9zM348 445h6v1h-6zM358 445h1v1h-1zM375 445h1v1h-1zM379 445h1v1h-1zM383 445h4v1h-4zM402 445h1v1h-1zM419 445h8v1h-8zM428 445h1v1h-1zM434 445h1v1h-1zM452 445h1v1h-1zM477 445h1v1h-1zM481 445h1v1h-1zM559 445h1v1h-1zM570 445h1v1h-1zM582 445h1v1h-1zM594 445h1v1h-1zM613 445h1v1h-1zM127 446h1v1h-1zM203 446h1v1h-1zM210 446h1v1h-1zM232 446h1v1h-1zM253 446h3v1h-3zM262 446h1v1h-1zM272 446h1v1h-1zM276 446h1v1h-1zM279 446h2v1h-2zM288 446h1v1h-1zM305 446h1v1h-1zM324 446h2v1h-2zM332 446h1v1h-1zM348 446h1v1h-1zM358 446h1v1h-1zM373 446h2v1h-2zM379 446h4v1h-4zM386 446h1v1h-1zM401 446h1v1h-1zM419 446h1v1h-1zM428 446h1v1h-1zM434 446h1v1h-1zM452 446h1v1h-1zM477 446h1v1h-1zM481 446h1v1h-1zM559 446h1v1h-1zM570 446h1v1h-1zM582 446h1v1h-1zM594 446h1v1h-1zM613 446h1v1h-1zM127 447h1v1h-1zM203 447h1v1h-1zM210 447h1v1h-1zM232 447h1v1h-1zM251 447h2v1h-2zM256 447h1v1h-1zM262 447h1v1h-1zM272 447h1v1h-1zM276 447h1v1h-1zM278 447h1v1h-1zM282 447h1v1h-1zM288 447h1v1h-1zM305 447h1v1h-1zM324 447h1v1h-1zM331 447h1v1h-1zM335 447h1v1h-1zM348 447h1v1h-1zM358 447h1v1h-1zM372 447h2v1h-2zM379 447h1v1h-1zM386 447h1v1h-1zM401 447h1v1h-1zM410 447h4v1h-4zM419 447h1v1h-1zM428 447h1v1h-1zM434 447h1v1h-1zM453 447h1v1h-1zM478 447h1v1h-1zM482 447h1v1h-1zM559 447h1v1h-1zM570 447h1v1h-1zM582 447h1v1h-1zM594 447h1v1h-1zM613 447h1v1h-1zM127 448h1v1h-1zM203 448h1v1h-1zM210 448h1v1h-1zM232 448h1v1h-1zM249 448h3v1h-3zM256 448h1v1h-1zM261 448h1v1h-1zM272 448h1v1h-1zM276 448h1v1h-1zM279 448h1v1h-1zM282 448h1v1h-1zM287 448h1v1h-1zM305 448h1v1h-1zM324 448h1v1h-1zM326 448h1v1h-1zM331 448h1v1h-1zM335 448h1v1h-1zM348 448h1v1h-1zM358 448h1v1h-1zM371 448h1v1h-1zM373 448h1v1h-1zM379 448h1v1h-1zM386 448h1v1h-1zM400 448h1v1h-1zM403 448h7v1h-7zM419 448h1v1h-1zM428 448h1v1h-1zM434 448h1v1h-1zM453 448h1v1h-1zM478 448h1v1h-1zM482 448h1v1h-1zM559 448h1v1h-1zM570 448h1v1h-1zM582 448h1v1h-1zM594 448h1v1h-1zM613 448h1v1h-1zM127 449h1v1h-1zM203 449h1v1h-1zM210 449h5v1h-5zM232 449h1v1h-1zM239 449h1v1h-1zM251 449h1v1h-1zM256 449h1v1h-1zM261 449h1v1h-1zM272 449h1v1h-1zM276 449h1v1h-1zM279 449h1v1h-1zM282 449h1v1h-1zM287 449h1v1h-1zM305 449h1v1h-1zM323 449h1v1h-1zM326 449h1v1h-1zM330 449h1v1h-1zM336 449h1v1h-1zM348 449h1v1h-1zM358 449h1v1h-1zM370 449h1v1h-1zM373 449h1v1h-1zM379 449h1v1h-1zM386 449h1v1h-1zM397 449h6v1h-6zM419 449h1v1h-1zM428 449h1v1h-1zM434 449h1v1h-1zM458 449h6v1h-6zM478 449h1v1h-1zM570 449h1v1h-1zM582 449h1v1h-1zM594 449h1v1h-1zM613 449h1v1h-1zM127 450h1v1h-1zM203 450h8v1h-8zM214 450h1v1h-1zM232 450h1v1h-1zM238 450h1v1h-1zM251 450h1v1h-1zM256 450h1v1h-1zM260 450h1v1h-1zM272 450h1v1h-1zM276 450h1v1h-1zM280 450h1v1h-1zM283 450h1v1h-1zM286 450h1v1h-1zM305 450h1v1h-1zM323 450h1v1h-1zM327 450h1v1h-1zM330 450h1v1h-1zM336 450h1v1h-1zM348 450h11v1h-11zM361 450h1v1h-1zM369 450h1v1h-1zM373 450h1v1h-1zM379 450h1v1h-1zM386 450h1v1h-1zM393 450h4v1h-4zM399 450h1v1h-1zM419 450h16v1h-16zM448 450h10v1h-10zM478 450h1v1h-1zM483 450h3v1h-3zM570 450h1v1h-1zM582 450h1v1h-1zM594 450h1v1h-1zM613 450h1v1h-1zM127 451h1v1h-1zM199 451h5v1h-5zM210 451h1v1h-1zM214 451h1v1h-1zM232 451h1v1h-1zM237 451h1v1h-1zM252 451h1v1h-1zM257 451h1v1h-1zM260 451h1v1h-1zM272 451h1v1h-1zM276 451h1v1h-1zM280 451h1v1h-1zM283 451h1v1h-1zM286 451h1v1h-1zM305 451h1v1h-1zM322 451h1v1h-1zM327 451h2v1h-2zM336 451h1v1h-1zM348 451h1v1h-1zM361 451h1v1h-1zM373 451h1v1h-1zM379 451h1v1h-1zM386 451h1v1h-1zM399 451h1v1h-1zM403 451h1v1h-1zM419 451h1v1h-1zM442 451h6v1h-6zM452 451h1v1h-1zM477 451h6v1h-6zM570 451h1v1h-1zM582 451h1v1h-1zM594 451h1v1h-1zM613 451h1v1h-1zM127 452h1v1h-1zM203 452h1v1h-1zM209 452h1v1h-1zM214 452h1v1h-1zM232 452h1v1h-1zM236 452h1v1h-1zM252 452h1v1h-1zM257 452h1v1h-1zM259 452h1v1h-1zM272 452h1v1h-1zM276 452h1v1h-1zM280 452h1v1h-1zM283 452h1v1h-1zM285 452h1v1h-1zM305 452h1v1h-1zM322 452h1v1h-1zM328 452h1v1h-1zM348 452h1v1h-1zM361 452h1v1h-1zM373 452h1v1h-1zM379 452h1v1h-1zM383 452h4v1h-4zM398 452h1v1h-1zM403 452h1v1h-1zM419 452h1v1h-1zM427 452h1v1h-1zM451 452h1v1h-1zM471 452h6v1h-6zM478 452h1v1h-1zM570 452h1v1h-1zM582 452h1v1h-1zM594 452h1v1h-1zM613 452h1v1h-1zM127 453h1v1h-1zM203 453h1v1h-1zM209 453h1v1h-1zM214 453h1v1h-1zM232 453h1v1h-1zM236 453h1v1h-1zM252 453h1v1h-1zM256 453h1v1h-1zM259 453h1v1h-1zM272 453h1v1h-1zM276 453h1v1h-1zM283 453h1v1h-1zM285 453h1v1h-1zM305 453h1v1h-1zM311 453h6v1h-6zM329 453h1v1h-1zM348 453h1v1h-1zM361 453h1v1h-1zM373 453h5v1h-5zM379 453h4v1h-4zM398 453h1v1h-1zM403 453h1v1h-1zM427 453h1v1h-1zM451 453h1v1h-1zM468 453h3v1h-3zM478 453h1v1h-1zM570 453h1v1h-1zM582 453h1v1h-1zM594 453h1v1h-1zM613 453h1v1h-1zM127 454h1v1h-1zM203 454h1v1h-1zM206 454h1v1h-1zM209 454h1v1h-1zM214 454h1v1h-1zM228 454h3v1h-3zM232 454h1v1h-1zM235 454h1v1h-1zM256 454h1v1h-1zM272 454h5v1h-5zM278 454h12v1h-12zM300 454h11v1h-11zM321 454h1v1h-1zM329 454h1v1h-1zM335 454h4v1h-4zM348 454h1v1h-1zM361 454h1v1h-1zM368 454h6v1h-6zM379 454h1v1h-1zM397 454h1v1h-1zM403 454h1v1h-1zM427 454h11v1h-11zM450 454h1v1h-1zM478 454h1v1h-1zM570 454h1v1h-1zM582 454h1v1h-1zM594 454h1v1h-1zM613 454h1v1h-1zM127 455h1v1h-1zM203 455h3v1h-3zM207 455h1v1h-1zM209 455h1v1h-1zM214 455h1v1h-1zM224 455h4v1h-4zM230 455h1v1h-1zM232 455h1v1h-1zM234 455h1v1h-1zM256 455h1v1h-1zM272 455h1v1h-1zM276 455h1v1h-1zM283 455h1v1h-1zM294 455h6v1h-6zM305 455h1v1h-1zM321 455h1v1h-1zM327 455h8v1h-8zM337 455h1v1h-1zM348 455h1v1h-1zM361 455h1v1h-1zM373 455h1v1h-1zM397 455h1v1h-1zM403 455h1v1h-1zM418 455h10v1h-10zM450 455h1v1h-1zM479 455h1v1h-1zM559 455h1v1h-1zM570 455h1v1h-1zM582 455h1v1h-1zM594 455h1v1h-1zM613 455h1v1h-1zM127 456h1v1h-1zM201 456h3v1h-3zM208 456h2v1h-2zM214 456h1v1h-1zM221 456h3v1h-3zM229 456h1v1h-1zM232 456h2v1h-2zM256 456h1v1h-1zM264 456h4v1h-4zM272 456h1v1h-1zM276 456h1v1h-1zM282 456h1v1h-1zM305 456h1v1h-1zM322 456h5v1h-5zM337 456h1v1h-1zM349 456h13v1h-13zM373 456h1v1h-1zM396 456h1v1h-1zM403 456h7v1h-7zM426 456h1v1h-1zM450 456h1v1h-1zM479 456h1v1h-1zM559 456h1v1h-1zM570 456h1v1h-1zM582 456h1v1h-1zM594 456h1v1h-1zM613 456h1v1h-1zM127 457h1v1h-1zM199 457h2v1h-2zM203 457h1v1h-1zM209 457h1v1h-1zM214 457h1v1h-1zM229 457h1v1h-1zM232 457h2v1h-2zM256 457h8v1h-8zM272 457h1v1h-1zM276 457h1v1h-1zM282 457h1v1h-1zM287 457h4v1h-4zM305 457h1v1h-1zM322 457h1v1h-1zM325 457h1v1h-1zM336 457h1v1h-1zM373 457h2v1h-2zM384 457h3v1h-3zM396 457h1v1h-1zM398 457h6v1h-6zM409 457h1v1h-1zM422 457h1v1h-1zM426 457h6v1h-6zM450 457h1v1h-1zM455 457h3v1h-3zM479 457h1v1h-1zM559 457h1v1h-1zM570 457h1v1h-1zM582 457h1v1h-1zM594 457h1v1h-1zM613 457h1v1h-1zM127 458h1v1h-1zM197 458h2v1h-2zM203 458h1v1h-1zM209 458h1v1h-1zM214 458h1v1h-1zM228 458h1v1h-1zM232 458h1v1h-1zM234 458h1v1h-1zM250 458h7v1h-7zM272 458h1v1h-1zM276 458h1v1h-1zM281 458h6v1h-6zM305 458h1v1h-1zM321 458h1v1h-1zM325 458h1v1h-1zM330 458h5v1h-5zM336 458h1v1h-1zM372 458h2v1h-2zM375 458h1v1h-1zM380 458h4v1h-4zM395 458h1v1h-1zM398 458h1v1h-1zM403 458h1v1h-1zM409 458h1v1h-1zM422 458h5v1h-5zM431 458h1v1h-1zM450 458h5v1h-5zM457 458h1v1h-1zM472 458h5v1h-5zM479 458h1v1h-1zM559 458h1v1h-1zM570 458h1v1h-1zM582 458h1v1h-1zM594 458h1v1h-1zM613 458h1v1h-1zM127 459h1v1h-1zM203 459h1v1h-1zM208 459h1v1h-1zM210 459h1v1h-1zM214 459h1v1h-1zM217 459h1v1h-1zM228 459h1v1h-1zM232 459h1v1h-1zM234 459h1v1h-1zM246 459h4v1h-4zM256 459h2v1h-2zM272 459h1v1h-1zM276 459h6v1h-6zM305 459h1v1h-1zM321 459h1v1h-1zM325 459h5v1h-5zM334 459h1v1h-1zM350 459h1v1h-1zM357 459h1v1h-1zM372 459h2v1h-2zM376 459h1v1h-1zM378 459h2v1h-2zM382 459h1v1h-1zM395 459h1v1h-1zM398 459h1v1h-1zM403 459h1v1h-1zM409 459h1v1h-1zM422 459h1v1h-1zM431 459h1v1h-1zM450 459h1v1h-1zM457 459h1v1h-1zM468 459h5v1h-5zM480 459h1v1h-1zM559 459h1v1h-1zM570 459h1v1h-1zM582 459h1v1h-1zM594 459h1v1h-1zM613 459h1v1h-1zM127 460h1v1h-1zM203 460h1v1h-1zM208 460h1v1h-1zM211 460h1v1h-1zM214 460h1v1h-1zM217 460h1v1h-1zM228 460h1v1h-1zM232 460h1v1h-1zM235 460h1v1h-1zM255 460h2v1h-2zM258 460h1v1h-1zM272 460h1v1h-1zM276 460h1v1h-1zM280 460h1v1h-1zM305 460h1v1h-1zM321 460h1v1h-1zM325 460h1v1h-1zM334 460h1v1h-1zM350 460h1v1h-1zM357 460h1v1h-1zM371 460h1v1h-1zM373 460h1v1h-1zM377 460h1v1h-1zM382 460h1v1h-1zM394 460h1v1h-1zM398 460h1v1h-1zM403 460h1v1h-1zM409 460h1v1h-1zM422 460h1v1h-1zM431 460h1v1h-1zM450 460h1v1h-1zM457 460h1v1h-1zM472 460h1v1h-1zM480 460h1v1h-1zM559 460h1v1h-1zM570 460h1v1h-1zM582 460h1v1h-1zM594 460h1v1h-1zM613 460h1v1h-1zM127 461h1v1h-1zM200 461h1v1h-1zM203 461h1v1h-1zM207 461h1v1h-1zM214 461h1v1h-1zM217 461h1v1h-1zM227 461h1v1h-1zM232 461h1v1h-1zM235 461h1v1h-1zM255 461h2v1h-2zM258 461h1v1h-1zM272 461h1v1h-1zM276 461h1v1h-1zM280 461h1v1h-1zM283 461h6v1h-6zM305 461h1v1h-1zM321 461h1v1h-1zM325 461h1v1h-1zM334 461h1v1h-1zM350 461h1v1h-1zM357 461h1v1h-1zM359 461h6v1h-6zM371 461h1v1h-1zM373 461h1v1h-1zM382 461h1v1h-1zM394 461h1v1h-1zM398 461h1v1h-1zM403 461h1v1h-1zM409 461h1v1h-1zM422 461h1v1h-1zM427 461h5v1h-5zM449 461h1v1h-1zM457 461h1v1h-1zM472 461h1v1h-1zM480 461h1v1h-1zM559 461h1v1h-1zM570 461h1v1h-1zM582 461h1v1h-1zM594 461h1v1h-1zM613 461h1v1h-1zM127 462h1v1h-1zM201 462h1v1h-1zM203 462h1v1h-1zM207 462h1v1h-1zM215 462h1v1h-1zM217 462h1v1h-1zM227 462h1v1h-1zM232 462h1v1h-1zM236 462h1v1h-1zM254 462h1v1h-1zM256 462h1v1h-1zM259 462h1v1h-1zM272 462h1v1h-1zM276 462h1v1h-1zM279 462h1v1h-1zM287 462h1v1h-1zM305 462h1v1h-1zM325 462h1v1h-1zM334 462h1v1h-1zM349 462h10v1h-10zM370 462h1v1h-1zM373 462h1v1h-1zM382 462h1v1h-1zM393 462h1v1h-1zM398 462h1v1h-1zM403 462h1v1h-1zM409 462h1v1h-1zM422 462h5v1h-5zM431 462h1v1h-1zM449 462h1v1h-1zM457 462h1v1h-1zM472 462h1v1h-1zM480 462h1v1h-1zM559 462h1v1h-1zM570 462h1v1h-1zM582 462h1v1h-1zM594 462h1v1h-1zM613 462h1v1h-1zM127 463h1v1h-1zM202 463h2v1h-2zM206 463h1v1h-1zM216 463h2v1h-2zM227 463h1v1h-1zM232 463h1v1h-1zM236 463h1v1h-1zM253 463h1v1h-1zM256 463h1v1h-1zM259 463h1v1h-1zM272 463h1v1h-1zM276 463h1v1h-1zM279 463h1v1h-1zM282 463h1v1h-1zM286 463h1v1h-1zM305 463h1v1h-1zM325 463h1v1h-1zM331 463h4v1h-4zM344 463h5v1h-5zM350 463h1v1h-1zM357 463h1v1h-1zM369 463h1v1h-1zM373 463h1v1h-1zM382 463h1v1h-1zM393 463h1v1h-1zM398 463h1v1h-1zM403 463h1v1h-1zM409 463h1v1h-1zM422 463h1v1h-1zM431 463h1v1h-1zM449 463h1v1h-1zM456 463h1v1h-1zM472 463h1v1h-1zM481 463h1v1h-1zM559 463h1v1h-1zM570 463h1v1h-1zM582 463h1v1h-1zM594 463h1v1h-1zM613 463h1v1h-1zM127 464h1v1h-1zM203 464h1v1h-1zM206 464h1v1h-1zM217 464h1v1h-1zM226 464h1v1h-1zM232 464h1v1h-1zM237 464h1v1h-1zM253 464h1v1h-1zM256 464h1v1h-1zM260 464h1v1h-1zM272 464h1v1h-1zM276 464h1v1h-1zM278 464h1v1h-1zM283 464h1v1h-1zM285 464h1v1h-1zM305 464h1v1h-1zM325 464h6v1h-6zM350 464h1v1h-1zM357 464h1v1h-1zM369 464h1v1h-1zM373 464h1v1h-1zM380 464h7v1h-7zM392 464h1v1h-1zM398 464h1v1h-1zM403 464h1v1h-1zM409 464h1v1h-1zM422 464h1v1h-1zM431 464h1v1h-1zM448 464h1v1h-1zM456 464h1v1h-1zM472 464h1v1h-1zM479 464h1v1h-1zM481 464h1v1h-1zM559 464h1v1h-1zM570 464h1v1h-1zM582 464h1v1h-1zM594 464h1v1h-1zM613 464h1v1h-1zM127 465h1v1h-1zM205 465h1v1h-1zM226 465h1v1h-1zM232 465h1v1h-1zM237 465h1v1h-1zM252 465h1v1h-1zM256 465h1v1h-1zM261 465h1v1h-1zM272 465h5v1h-5zM278 465h1v1h-1zM283 465h1v1h-1zM285 465h1v1h-1zM305 465h1v1h-1zM325 465h1v1h-1zM350 465h1v1h-1zM357 465h1v1h-1zM368 465h1v1h-1zM373 465h1v1h-1zM382 465h1v1h-1zM398 465h1v1h-1zM403 465h1v1h-1zM409 465h1v1h-1zM422 465h1v1h-1zM427 465h5v1h-5zM448 465h1v1h-1zM456 465h1v1h-1zM472 465h1v1h-1zM477 465h2v1h-2zM481 465h1v1h-1zM559 465h1v1h-1zM570 465h1v1h-1zM582 465h1v1h-1zM594 465h1v1h-1zM613 465h1v1h-1zM127 466h1v1h-1zM205 466h1v1h-1zM209 466h1v1h-1zM225 466h1v1h-1zM232 466h1v1h-1zM238 466h1v1h-1zM251 466h1v1h-1zM256 466h1v1h-1zM261 466h1v1h-1zM272 466h1v1h-1zM276 466h2v1h-2zM284 466h1v1h-1zM305 466h1v1h-1zM325 466h1v1h-1zM330 466h5v1h-5zM350 466h1v1h-1zM357 466h1v1h-1zM368 466h1v1h-1zM373 466h1v1h-1zM382 466h1v1h-1zM398 466h1v1h-1zM403 466h1v1h-1zM409 466h1v1h-1zM422 466h5v1h-5zM431 466h1v1h-1zM448 466h1v1h-1zM455 466h1v1h-1zM472 466h1v1h-1zM475 466h2v1h-2zM482 466h1v1h-1zM485 466h1v1h-1zM559 466h1v1h-1zM570 466h1v1h-1zM582 466h1v1h-1zM594 466h1v1h-1zM613 466h1v1h-1zM127 467h1v1h-1zM205 467h1v1h-1zM209 467h1v1h-1zM213 467h1v1h-1zM225 467h1v1h-1zM232 467h1v1h-1zM238 467h1v1h-1zM250 467h1v1h-1zM256 467h1v1h-1zM262 467h1v1h-1zM272 467h1v1h-1zM277 467h1v1h-1zM283 467h2v1h-2zM305 467h1v1h-1zM325 467h5v1h-5zM334 467h1v1h-1zM350 467h1v1h-1zM357 467h1v1h-1zM367 467h1v1h-1zM373 467h1v1h-1zM382 467h1v1h-1zM398 467h1v1h-1zM403 467h1v1h-1zM405 467h1v1h-1zM409 467h1v1h-1zM422 467h1v1h-1zM431 467h1v1h-1zM448 467h1v1h-1zM455 467h1v1h-1zM472 467h3v1h-3zM482 467h1v1h-1zM485 467h1v1h-1zM559 467h1v1h-1zM570 467h1v1h-1zM582 467h1v1h-1zM594 467h1v1h-1zM613 467h1v1h-1zM127 468h1v1h-1zM201 468h1v1h-1zM205 468h1v1h-1zM209 468h1v1h-1zM214 468h1v1h-1zM224 468h1v1h-1zM232 468h1v1h-1zM239 468h1v1h-1zM250 468h1v1h-1zM256 468h1v1h-1zM262 468h1v1h-1zM272 468h1v1h-1zM276 468h1v1h-1zM282 468h1v1h-1zM285 468h1v1h-1zM305 468h1v1h-1zM325 468h1v1h-1zM334 468h1v1h-1zM350 468h1v1h-1zM357 468h1v1h-1zM373 468h1v1h-1zM382 468h1v1h-1zM398 468h1v1h-1zM403 468h1v1h-1zM406 468h1v1h-1zM408 468h1v1h-1zM422 468h1v1h-1zM427 468h5v1h-5zM447 468h1v1h-1zM455 468h1v1h-1zM471 468h2v1h-2zM483 468h1v1h-1zM485 468h1v1h-1zM559 468h1v1h-1zM570 468h1v1h-1zM582 468h1v1h-1zM594 468h1v1h-1zM613 468h1v1h-1zM127 469h1v1h-1zM201 469h1v1h-1zM206 469h1v1h-1zM210 469h1v1h-1zM214 469h1v1h-1zM223 469h1v1h-1zM229 469h1v1h-1zM232 469h1v1h-1zM239 469h5v1h-5zM249 469h1v1h-1zM256 469h1v1h-1zM263 469h5v1h-5zM276 469h1v1h-1zM281 469h1v1h-1zM285 469h1v1h-1zM305 469h1v1h-1zM325 469h1v1h-1zM334 469h1v1h-1zM349 469h1v1h-1zM357 469h1v1h-1zM373 469h1v1h-1zM382 469h1v1h-1zM398 469h1v1h-1zM403 469h1v1h-1zM406 469h1v1h-1zM408 469h1v1h-1zM422 469h5v1h-5zM431 469h1v1h-1zM447 469h1v1h-1zM451 469h1v1h-1zM454 469h1v1h-1zM469 469h2v1h-2zM483 469h1v1h-1zM485 469h1v1h-1zM570 469h1v1h-1zM582 469h1v1h-1zM594 469h1v1h-1zM613 469h1v1h-1zM127 470h1v1h-1zM200 470h1v1h-1zM206 470h1v1h-1zM210 470h1v1h-1zM215 470h1v1h-1zM222 470h1v1h-1zM230 470h1v1h-1zM232 470h1v1h-1zM248 470h1v1h-1zM256 470h1v1h-1zM275 470h1v1h-1zM280 470h1v1h-1zM286 470h1v1h-1zM305 470h1v1h-1zM325 470h1v1h-1zM334 470h1v1h-1zM348 470h1v1h-1zM357 470h1v1h-1zM373 470h1v1h-1zM382 470h1v1h-1zM398 470h1v1h-1zM403 470h1v1h-1zM407 470h2v1h-2zM422 470h1v1h-1zM431 470h1v1h-1zM446 470h1v1h-1zM451 470h1v1h-1zM454 470h1v1h-1zM468 470h1v1h-1zM484 470h2v1h-2zM570 470h1v1h-1zM582 470h1v1h-1zM594 470h1v1h-1zM613 470h1v1h-1zM127 471h1v1h-1zM200 471h1v1h-1zM207 471h1v1h-1zM210 471h1v1h-1zM215 471h1v1h-1zM221 471h1v1h-1zM230 471h1v1h-1zM232 471h1v1h-1zM248 471h1v1h-1zM256 471h1v1h-1zM275 471h1v1h-1zM279 471h1v1h-1zM286 471h1v1h-1zM305 471h1v1h-1zM325 471h1v1h-1zM331 471h4v1h-4zM347 471h1v1h-1zM357 471h1v1h-1zM373 471h1v1h-1zM382 471h8v1h-8zM403 471h1v1h-1zM408 471h1v1h-1zM422 471h1v1h-1zM431 471h7v1h-7zM445 471h1v1h-1zM452 471h1v1h-1zM454 471h1v1h-1zM484 471h2v1h-2zM570 471h1v1h-1zM582 471h1v1h-1zM594 471h1v1h-1zM613 471h1v1h-1zM127 472h1v1h-1zM200 472h1v1h-1zM207 472h1v1h-1zM210 472h1v1h-1zM216 472h1v1h-1zM220 472h1v1h-1zM231 472h2v1h-2zM247 472h1v1h-1zM256 472h1v1h-1zM274 472h1v1h-1zM279 472h1v1h-1zM287 472h1v1h-1zM305 472h1v1h-1zM325 472h6v1h-6zM347 472h1v1h-1zM357 472h1v1h-1zM373 472h1v1h-1zM375 472h8v1h-8zM403 472h1v1h-1zM422 472h10v1h-10zM443 472h2v1h-2zM452 472h2v1h-2zM485 472h1v1h-1zM570 472h1v1h-1zM582 472h1v1h-1zM594 472h1v1h-1zM613 472h1v1h-1zM127 473h1v1h-1zM199 473h1v1h-1zM216 473h1v1h-1zM231 473h2v1h-2zM256 473h1v1h-1zM274 473h1v1h-1zM278 473h1v1h-1zM287 473h2v1h-2zM305 473h1v1h-1zM325 473h1v1h-1zM346 473h1v1h-1zM357 473h1v1h-1zM373 473h1v1h-1zM403 473h1v1h-1zM417 473h5v1h-5zM442 473h1v1h-1zM453 473h1v1h-1zM485 473h1v1h-1zM570 473h1v1h-1zM582 473h1v1h-1zM594 473h1v1h-1zM613 473h1v1h-1zM127 474h1v1h-1zM199 474h1v1h-1zM232 474h1v1h-1zM256 474h1v1h-1zM273 474h1v1h-1zM277 474h1v1h-1zM289 474h3v1h-3zM305 474h1v1h-1zM325 474h1v1h-1zM345 474h1v1h-1zM357 474h1v1h-1zM373 474h1v1h-1zM403 474h1v1h-1zM441 474h1v1h-1zM570 474h1v1h-1zM582 474h1v1h-1zM594 474h1v1h-1zM613 474h1v1h-1zM127 475h1v1h-1zM273 475h1v1h-1zM276 475h1v1h-1zM325 475h1v1h-1zM344 475h1v1h-1zM357 475h1v1h-1zM403 475h1v1h-1zM559 475h1v1h-1zM570 475h1v1h-1zM582 475h1v1h-1zM594 475h1v1h-1zM613 475h1v1h-1zM127 476h1v1h-1zM559 476h1v1h-1zM570 476h1v1h-1zM582 476h1v1h-1zM594 476h1v1h-1zM613 476h1v1h-1zM127 477h1v1h-1zM559 477h1v1h-1zM570 477h1v1h-1zM582 477h1v1h-1zM594 477h1v1h-1zM613 477h1v1h-1zM127 478h1v1h-1zM559 478h1v1h-1zM570 478h1v1h-1zM582 478h1v1h-1zM594 478h1v1h-1zM613 478h1v1h-1zM127 479h1v1h-1zM559 479h1v1h-1zM570 479h1v1h-1zM582 479h1v1h-1zM594 479h1v1h-1zM613 479h1v1h-1zM127 480h1v1h-1zM559 480h1v1h-1zM570 480h1v1h-1zM582 480h1v1h-1zM594 480h1v1h-1zM613 480h1v1h-1zM127 481h1v1h-1zM559 481h1v1h-1zM570 481h1v1h-1zM582 481h1v1h-1zM594 481h1v1h-1zM613 481h1v1h-1zM127 482h1v1h-1zM559 482h1v1h-1zM570 482h1v1h-1zM582 482h1v1h-1zM594 482h1v1h-1zM613 482h1v1h-1zM127 483h1v1h-1zM559 483h1v1h-1zM570 483h1v1h-1zM582 483h1v1h-1zM594 483h1v1h-1zM613 483h1v1h-1zM127 484h1v1h-1zM559 484h1v1h-1zM570 484h1v1h-1zM582 484h1v1h-1zM594 484h1v1h-1zM613 484h1v1h-1zM127 485h1v1h-1zM559 485h1v1h-1zM570 485h1v1h-1zM582 485h1v1h-1zM594 485h1v1h-1zM613 485h1v1h-1zM127 486h1v1h-1zM559 486h1v1h-1zM570 486h1v1h-1zM582 486h1v1h-1zM594 486h1v1h-1zM613 486h1v1h-1zM127 487h1v1h-1zM559 487h1v1h-1zM570 487h1v1h-1zM582 487h1v1h-1zM594 487h1v1h-1zM613 487h1v1h-1zM127 488h1v1h-1zM559 488h1v1h-1zM570 488h1v1h-1zM582 488h13v1h-13zM613 488h1v1h-1zM127 489h1v1h-1zM570 489h1v1h-1zM613 489h1v1h-1zM127 490h1v1h-1zM570 490h1v1h-1zM613 490h1v1h-1zM127 491h1v1h-1zM570 491h1v1h-1zM613 491h1v1h-1zM127 492h1v1h-1zM570 492h1v1h-1zM613 492h1v1h-1zM127 493h1v1h-1zM570 493h1v1h-1zM613 493h1v1h-1zM127 494h1v1h-1zM570 494h1v1h-1zM613 494h1v1h-1zM127 495h1v1h-1zM559 495h1v1h-1zM570 495h1v1h-1zM613 495h1v1h-1zM127 496h1v1h-1zM559 496h1v1h-1zM570 496h1v1h-1zM613 496h1v1h-1zM127 497h1v1h-1zM559 497h1v1h-1zM570 497h1v1h-1zM613 497h1v1h-1zM127 498h1v1h-1zM559 498h1v1h-1zM570 498h1v1h-1zM613 498h1v1h-1zM127 499h1v1h-1zM559 499h1v1h-1zM570 499h1v1h-1zM613 499h1v1h-1zM127 500h1v1h-1zM559 500h1v1h-1zM570 500h1v1h-1zM613 500h1v1h-1zM127 501h1v1h-1zM559 501h1v1h-1zM570 501h1v1h-1zM613 501h1v1h-1zM127 502h1v1h-1zM559 502h1v1h-1zM570 502h1v1h-1zM613 502h1v1h-1zM127 503h1v1h-1zM559 503h1v1h-1zM570 503h1v1h-1zM613 503h1v1h-1zM127 504h1v1h-1zM559 504h1v1h-1zM570 504h1v1h-1zM613 504h1v1h-1zM127 505h1v1h-1zM559 505h1v1h-1zM570 505h1v1h-1zM613 505h1v1h-1zM127 506h1v1h-1zM559 506h1v1h-1zM570 506h1v1h-1zM613 506h1v1h-1zM127 507h1v1h-1zM559 507h1v1h-1zM570 507h1v1h-1zM613 507h1v1h-1zM127 508h1v1h-1zM559 508h1v1h-1zM570 508h1v1h-1zM613 508h1v1h-1zM127 509h1v1h-1zM559 509h1v1h-1zM570 509h1v1h-1zM613 509h1v1h-1zM127 510h1v1h-1zM570 510h1v1h-1zM613 510h1v1h-1zM127 511h1v1h-1zM570 511h1v1h-1zM613 511h1v1h-1zM127 512h1v1h-1zM570 512h1v1h-1zM613 512h1v1h-1zM127 513h1v1h-1zM570 513h1v1h-1zM613 513h1v1h-1zM127 514h1v1h-1zM570 514h1v1h-1zM613 514h1v1h-1zM127 515h1v1h-1zM570 515h1v1h-1zM613 515h1v1h-1zM127 516h1v1h-1zM559 516h1v1h-1zM570 516h1v1h-1zM613 516h1v1h-1zM127 517h1v1h-1zM559 517h1v1h-1zM570 517h1v1h-1zM613 517h1v1h-1zM127 518h1v1h-1zM559 518h1v1h-1zM570 518h1v1h-1zM613 518h1v1h-1zM127 519h1v1h-1zM559 519h1v1h-1zM570 519h1v1h-1zM613 519h1v1h-1zM127 520h1v1h-1zM559 520h1v1h-1zM570 520h1v1h-1zM613 520h1v1h-1zM127 521h1v1h-1zM253 521h7v1h-7zM428 521h7v1h-7zM559 521h1v1h-1zM570 521h1v1h-1zM613 521h1v1h-1zM127 522h1v1h-1zM251 522h2v1h-2zM260 522h2v1h-2zM426 522h2v1h-2zM435 522h2v1h-2zM559 522h1v1h-1zM570 522h1v1h-1zM613 522h1v1h-1zM127 523h1v1h-1zM250 523h1v1h-1zM262 523h1v1h-1zM425 523h1v1h-1zM437 523h1v1h-1zM559 523h1v1h-1zM570 523h1v1h-1zM613 523h1v1h-1zM127 524h1v1h-1zM249 524h1v1h-1zM257 524h4v1h-4zM263 524h1v1h-1zM424 524h1v1h-1zM438 524h1v1h-1zM559 524h1v1h-1zM570 524h1v1h-1zM613 524h1v1h-1zM127 525h1v1h-1zM248 525h1v1h-1zM256 525h1v1h-1zM261 525h1v1h-1zM264 525h1v1h-1zM423 525h1v1h-1zM439 525h1v1h-1zM559 525h1v1h-1zM570 525h1v1h-1zM613 525h1v1h-1zM127 526h1v1h-1zM247 526h1v1h-1zM255 526h1v1h-1zM261 526h1v1h-1zM265 526h1v1h-1zM422 526h1v1h-1zM440 526h1v1h-1zM559 526h1v1h-1zM570 526h1v1h-1zM613 526h1v1h-1zM127 527h1v1h-1zM246 527h1v1h-1zM254 527h1v1h-1zM262 527h1v1h-1zM266 527h1v1h-1zM421 527h1v1h-1zM429 527h6v1h-6zM441 527h1v1h-1zM559 527h1v1h-1zM570 527h1v1h-1zM613 527h1v1h-1zM127 528h1v1h-1zM246 528h1v1h-1zM254 528h1v1h-1zM266 528h1v1h-1zM421 528h1v1h-1zM428 528h1v1h-1zM435 528h1v1h-1zM441 528h1v1h-1zM559 528h1v1h-1zM570 528h1v1h-1zM613 528h1v1h-1zM127 529h1v1h-1zM245 529h1v1h-1zM254 529h1v1h-1zM267 529h1v1h-1zM420 529h1v1h-1zM427 529h1v1h-1zM436 529h1v1h-1zM442 529h1v1h-1zM559 529h1v1h-1zM570 529h1v1h-1zM613 529h1v1h-1zM127 530h1v1h-1zM245 530h1v1h-1zM254 530h1v1h-1zM267 530h1v1h-1zM420 530h1v1h-1zM426 530h1v1h-1zM437 530h1v1h-1zM442 530h1v1h-1zM570 530h1v1h-1zM613 530h1v1h-1zM127 531h1v1h-1zM245 531h1v1h-1zM254 531h1v1h-1zM267 531h1v1h-1zM420 531h1v1h-1zM426 531h1v1h-1zM436 531h1v1h-1zM442 531h1v1h-1zM570 531h1v1h-1zM613 531h1v1h-1zM127 532h1v1h-1zM245 532h1v1h-1zM252 532h9v1h-9zM267 532h1v1h-1zM420 532h1v1h-1zM426 532h1v1h-1zM435 532h1v1h-1zM442 532h1v1h-1zM570 532h1v1h-1zM613 532h1v1h-1zM127 533h1v1h-1zM245 533h1v1h-1zM254 533h1v1h-1zM267 533h1v1h-1zM420 533h1v1h-1zM426 533h9v1h-9zM442 533h1v1h-1zM570 533h1v1h-1zM613 533h1v1h-1zM127 534h1v1h-1zM245 534h1v1h-1zM254 534h1v1h-1zM267 534h1v1h-1zM420 534h1v1h-1zM426 534h1v1h-1zM442 534h1v1h-1zM570 534h1v1h-1zM613 534h1v1h-1zM127 535h1v1h-1zM245 535h1v1h-1zM254 535h1v1h-1zM267 535h1v1h-1zM420 535h1v1h-1zM426 535h1v1h-1zM442 535h1v1h-1zM570 535h1v1h-1zM613 535h1v1h-1zM127 536h1v1h-1zM246 536h1v1h-1zM254 536h1v1h-1zM266 536h1v1h-1zM421 536h1v1h-1zM427 536h1v1h-1zM441 536h1v1h-1zM559 536h1v1h-1zM570 536h1v1h-1zM613 536h1v1h-1zM127 537h1v1h-1zM246 537h1v1h-1zM254 537h1v1h-1zM266 537h1v1h-1zM421 537h1v1h-1zM428 537h1v1h-1zM441 537h1v1h-1zM559 537h1v1h-1zM570 537h1v1h-1zM613 537h1v1h-1zM127 538h1v1h-1zM247 538h1v1h-1zM254 538h1v1h-1zM265 538h1v1h-1zM422 538h1v1h-1zM429 538h6v1h-6zM440 538h1v1h-1zM559 538h1v1h-1zM570 538h1v1h-1zM613 538h1v1h-1zM127 539h1v1h-1zM248 539h1v1h-1zM254 539h1v1h-1zM264 539h1v1h-1zM423 539h1v1h-1zM439 539h1v1h-1zM559 539h1v1h-1zM570 539h1v1h-1zM613 539h1v1h-1zM127 540h1v1h-1zM249 540h1v1h-1zM254 540h1v1h-1zM263 540h1v1h-1zM424 540h1v1h-1zM438 540h1v1h-1zM559 540h1v1h-1zM570 540h1v1h-1zM613 540h1v1h-1zM127 541h1v1h-1zM250 541h1v1h-1zM262 541h1v1h-1zM425 541h1v1h-1zM437 541h1v1h-1zM559 541h1v1h-1zM570 541h1v1h-1zM613 541h1v1h-1zM127 542h1v1h-1zM251 542h2v1h-2zM260 542h2v1h-2zM426 542h2v1h-2zM435 542h2v1h-2zM559 542h1v1h-1zM570 542h1v1h-1zM613 542h1v1h-1zM127 543h1v1h-1zM253 543h7v1h-7zM428 543h7v1h-7zM559 543h1v1h-1zM570 543h1v1h-1zM613 543h1v1h-1zM127 544h1v1h-1zM559 544h1v1h-1zM570 544h1v1h-1zM613 544h1v1h-1zM127 545h1v1h-1zM559 545h1v1h-1zM570 545h1v1h-1zM613 545h1v1h-1zM127 546h1v1h-1zM559 546h1v1h-1zM570 546h1v1h-1zM613 546h1v1h-1zM127 547h1v1h-1zM559 547h1v1h-1zM570 547h1v1h-1zM613 547h1v1h-1zM127 548h1v1h-1zM559 548h1v1h-1zM570 548h1v1h-1zM613 548h1v1h-1zM127 549h1v1h-1zM559 549h1v1h-1zM570 549h1v1h-1zM613 549h1v1h-1zM127 550h1v1h-1zM247 550h11v1h-11zM264 550h15v1h-15zM285 550h14v1h-14zM305 550h14v1h-14zM325 550h14v1h-14zM346 550h14v1h-14zM366 550h14v1h-14zM386 550h14v1h-14zM406 550h15v1h-15zM426 550h15v1h-15zM447 550h14v1h-14zM467 550h15v1h-15zM488 550h14v1h-14zM508 550h14v1h-14zM528 550h14v1h-14zM548 550h12v1h-12zM570 550h1v1h-1zM613 550h1v1h-1zM127 551h1v1h-1zM247 551h1v1h-1zM426 551h1v1h-1zM570 551h1v1h-1zM613 551h1v1h-1zM127 552h1v1h-1zM247 552h1v1h-1zM426 552h1v1h-1zM570 552h1v1h-1zM613 552h1v1h-1zM127 553h1v1h-1zM247 553h1v1h-1zM426 553h1v1h-1zM570 553h1v1h-1zM613 553h1v1h-1zM127 554h1v1h-1zM247 554h1v1h-1zM426 554h1v1h-1zM570 554h1v1h-1zM613 554h1v1h-1zM127 555h1v1h-1zM247 555h1v1h-1zM426 555h1v1h-1zM570 555h1v1h-1zM613 555h1v1h-1zM127 556h1v1h-1zM247 556h1v1h-1zM426 556h1v1h-1zM570 556h1v1h-1zM613 556h1v1h-1zM127 557h1v1h-1zM247 557h1v1h-1zM426 557h1v1h-1zM570 557h1v1h-1zM613 557h1v1h-1zM127 558h1v1h-1zM247 558h1v1h-1zM426 558h1v1h-1zM570 558h1v1h-1zM613 558h1v1h-1zM127 559h1v1h-1zM247 559h1v1h-1zM426 559h1v1h-1zM570 559h1v1h-1zM613 559h1v1h-1zM127 560h1v1h-1zM570 560h1v1h-1zM613 560h1v1h-1zM127 561h1v1h-1zM570 561h1v1h-1zM613 561h1v1h-1zM127 562h1v1h-1zM570 562h1v1h-1zM613 562h1v1h-1zM127 563h1v1h-1zM570 563h1v1h-1zM613 563h1v1h-1zM127 564h1v1h-1zM258 564h313v1h-313zM613 564h1v1h-1zM127 565h1v1h-1zM258 565h1v1h-1zM438 565h1v1h-1zM613 565h1v1h-1zM127 566h1v1h-1zM247 566h1v1h-1zM258 566h1v1h-1zM426 566h1v1h-1zM438 566h1v1h-1zM613 566h1v1h-1zM127 567h1v1h-1zM247 567h1v1h-1zM258 567h1v1h-1zM426 567h1v1h-1zM438 567h1v1h-1zM613 567h1v1h-1zM127 568h1v1h-1zM247 568h1v1h-1zM258 568h1v1h-1zM426 568h1v1h-1zM438 568h1v1h-1zM613 568h1v1h-1zM127 569h1v1h-1zM247 569h1v1h-1zM258 569h1v1h-1zM426 569h1v1h-1zM438 569h1v1h-1zM613 569h1v1h-1zM127 570h1v1h-1zM247 570h1v1h-1zM258 570h1v1h-1zM426 570h1v1h-1zM438 570h1v1h-1zM613 570h1v1h-1zM127 571h1v1h-1zM247 571h1v1h-1zM258 571h1v1h-1zM426 571h1v1h-1zM438 571h1v1h-1zM613 571h1v1h-1zM127 572h1v1h-1zM247 572h1v1h-1zM258 572h1v1h-1zM426 572h1v1h-1zM438 572h1v1h-1zM613 572h1v1h-1zM127 573h1v1h-1zM186 573h53v1h-53zM247 573h1v1h-1zM258 573h1v1h-1zM333 573h53v1h-53zM426 573h1v1h-1zM438 573h1v1h-1zM481 573h53v1h-53zM613 573h1v1h-1zM127 574h1v1h-1zM186 574h1v1h-1zM238 574h1v1h-1zM247 574h1v1h-1zM258 574h1v1h-1zM333 574h1v1h-1zM385 574h1v1h-1zM426 574h1v1h-1zM438 574h1v1h-1zM481 574h1v1h-1zM533 574h1v1h-1zM613 574h1v1h-1zM127 575h1v1h-1zM186 575h1v1h-1zM238 575h1v1h-1zM247 575h1v1h-1zM258 575h1v1h-1zM333 575h1v1h-1zM385 575h1v1h-1zM426 575h1v1h-1zM438 575h1v1h-1zM481 575h1v1h-1zM533 575h1v1h-1zM613 575h1v1h-1zM127 576h1v1h-1zM186 576h1v1h-1zM238 576h1v1h-1zM245 576h4v1h-4zM257 576h4v1h-4zM333 576h1v1h-1zM385 576h1v1h-1zM425 576h4v1h-4zM437 576h4v1h-4zM481 576h1v1h-1zM533 576h1v1h-1zM613 576h1v1h-1zM127 577h1v1h-1zM186 577h1v1h-1zM238 577h1v1h-1zM244 577h1v1h-1zM249 577h1v1h-1zM256 577h6v1h-6zM333 577h1v1h-1zM385 577h1v1h-1zM424 577h1v1h-1zM429 577h1v1h-1zM436 577h6v1h-6zM481 577h1v1h-1zM533 577h1v1h-1zM613 577h1v1h-1zM127 578h1v1h-1zM186 578h1v1h-1zM238 578h1v1h-1zM243 578h1v1h-1zM250 578h1v1h-1zM255 578h8v1h-8zM333 578h1v1h-1zM385 578h1v1h-1zM423 578h1v1h-1zM430 578h1v1h-1zM435 578h8v1h-8zM481 578h1v1h-1zM533 578h1v1h-1zM613 578h1v1h-1zM127 579h1v1h-1zM186 579h1v1h-1zM238 579h1v1h-1zM243 579h1v1h-1zM250 579h1v1h-1zM255 579h8v1h-8zM333 579h1v1h-1zM385 579h1v1h-1zM423 579h1v1h-1zM430 579h1v1h-1zM435 579h8v1h-8zM481 579h1v1h-1zM533 579h1v1h-1zM613 579h1v1h-1zM127 580h1v1h-1zM186 580h1v1h-1zM238 580h1v1h-1zM243 580h1v1h-1zM250 580h1v1h-1zM255 580h8v1h-8zM333 580h1v1h-1zM385 580h1v1h-1zM423 580h1v1h-1zM430 580h1v1h-1zM435 580h8v1h-8zM481 580h1v1h-1zM533 580h1v1h-1zM613 580h1v1h-1zM127 581h1v1h-1zM186 581h1v1h-1zM238 581h1v1h-1zM243 581h1v1h-1zM250 581h1v1h-1zM255 581h8v1h-8zM333 581h1v1h-1zM385 581h1v1h-1zM423 581h1v1h-1zM430 581h1v1h-1zM435 581h8v1h-8zM481 581h1v1h-1zM533 581h1v1h-1zM613 581h1v1h-1zM127 582h1v1h-1zM186 582h1v1h-1zM238 582h1v1h-1zM244 582h1v1h-1zM249 582h1v1h-1zM256 582h6v1h-6zM333 582h1v1h-1zM385 582h1v1h-1zM424 582h1v1h-1zM429 582h1v1h-1zM436 582h6v1h-6zM481 582h1v1h-1zM533 582h1v1h-1zM613 582h1v1h-1zM127 583h1v1h-1zM186 583h1v1h-1zM238 583h1v1h-1zM245 583h4v1h-4zM257 583h4v1h-4zM333 583h1v1h-1zM385 583h1v1h-1zM425 583h4v1h-4zM437 583h4v1h-4zM481 583h1v1h-1zM533 583h1v1h-1zM613 583h1v1h-1zM127 584h1v1h-1zM186 584h1v1h-1zM238 584h1v1h-1zM333 584h1v1h-1zM385 584h1v1h-1zM481 584h1v1h-1zM533 584h1v1h-1zM613 584h1v1h-1zM127 585h1v1h-1zM186 585h53v1h-53zM333 585h53v1h-53zM481 585h53v1h-53zM613 585h1v1h-1zM127 586h1v1h-1zM613 586h1v1h-1zM127 587h1v1h-1zM613 587h1v1h-1zM127 588h1v1h-1zM613 588h1v1h-1zM127 589h1v1h-1zM613 589h1v1h-1zM127 590h1v1h-1zM613 590h1v1h-1zM127 591h1v1h-1zM613 591h1v1h-1zM127 592h1v1h-1zM613 592h1v1h-1zM127 593h1v1h-1zM613 593h1v1h-1zM127 594h1v1h-1zM613 594h1v1h-1zM127 595h1v1h-1zM613 595h1v1h-1zM127 596h1v1h-1zM613 596h1v1h-1zM127 597h1v1h-1zM613 597h1v1h-1zM127 598h1v1h-1zM613 598h1v1h-1zM127 599h1v1h-1zM613 599h1v1h-1zM127 600h1v1h-1zM613 600h1v1h-1zM127 601h1v1h-1zM613 601h1v1h-1zM127 602h1v1h-1zM613 602h1v1h-1zM127 603h1v1h-1zM613 603h1v1h-1zM127 604h1v1h-1zM613 604h1v1h-1zM127 605h1v1h-1zM613 605h1v1h-1zM127 606h487v1h-487z"/></svg>
</body></html>
